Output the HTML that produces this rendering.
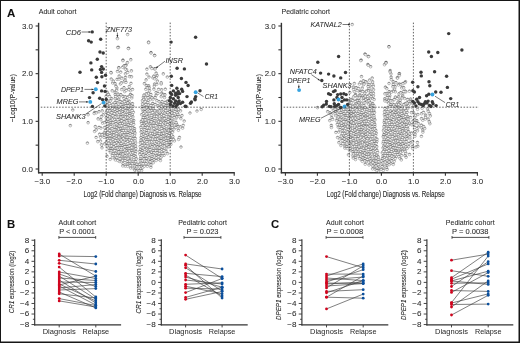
<!DOCTYPE html>
<html><head><meta charset="utf-8"><style>
html,body{margin:0;padding:0;background:#fff;}
body{width:520px;height:343px;overflow:hidden;}
svg{display:block;font-family:"Liberation Sans",sans-serif;filter:blur(0.35px);}
</style></head><body>
<svg width="520" height="343" viewBox="0 0 520 343">
<defs><linearGradient id="lg" x1="0" y1="0" x2="0" y2="1"><stop offset="0" stop-color="#5a5a5a"/><stop offset="0.35" stop-color="#d2d2d2"/><stop offset="0.6" stop-color="#fcfcfc"/><stop offset="1" stop-color="#fff"/></linearGradient></defs>
<rect x="0" y="0" width="520" height="343" fill="#161616"/>
<rect x="1" y="1" width="517.5" height="340.5" fill="#fff"/>
<line x1="38.60" y1="22.80" x2="38.60" y2="173.30" stroke="#333333" stroke-width="1.4"/>
<line x1="38.00" y1="172.70" x2="234.80" y2="172.70" stroke="#333333" stroke-width="1.4"/>
<line x1="35.60" y1="169.00" x2="38.60" y2="169.00" stroke="#333333" stroke-width="1.1"/>
<text x="32.90" y="171.60" font-size="7.9" text-anchor="end" fill="#2b2b2b" stroke="#2b2b2b" stroke-width="0.06">0.0</text>
<line x1="35.60" y1="145.16" x2="38.60" y2="145.16" stroke="#333333" stroke-width="1.1"/>
<line x1="35.60" y1="121.33" x2="38.60" y2="121.33" stroke="#333333" stroke-width="1.1"/>
<text x="32.90" y="123.93" font-size="7.9" text-anchor="end" fill="#2b2b2b" stroke="#2b2b2b" stroke-width="0.06">1.0</text>
<line x1="35.60" y1="97.50" x2="38.60" y2="97.50" stroke="#333333" stroke-width="1.1"/>
<line x1="35.60" y1="73.66" x2="38.60" y2="73.66" stroke="#333333" stroke-width="1.1"/>
<text x="32.90" y="76.26" font-size="7.9" text-anchor="end" fill="#2b2b2b" stroke="#2b2b2b" stroke-width="0.06">2.0</text>
<line x1="35.60" y1="49.82" x2="38.60" y2="49.82" stroke="#333333" stroke-width="1.1"/>
<line x1="35.60" y1="25.99" x2="38.60" y2="25.99" stroke="#333333" stroke-width="1.1"/>
<text x="32.90" y="28.59" font-size="7.9" text-anchor="end" fill="#2b2b2b" stroke="#2b2b2b" stroke-width="0.06">3.0</text>
<line x1="42.20" y1="172.70" x2="42.20" y2="175.70" stroke="#333333" stroke-width="1.1"/>
<text x="42.40" y="184.40" font-size="7.9" text-anchor="middle" fill="#2b2b2b" stroke="#2b2b2b" stroke-width="0.06">−3.0</text>
<line x1="74.20" y1="172.70" x2="74.20" y2="175.70" stroke="#333333" stroke-width="1.1"/>
<text x="74.40" y="184.40" font-size="7.9" text-anchor="middle" fill="#2b2b2b" stroke="#2b2b2b" stroke-width="0.06">−2.0</text>
<line x1="106.20" y1="172.70" x2="106.20" y2="175.70" stroke="#333333" stroke-width="1.1"/>
<text x="106.40" y="184.40" font-size="7.9" text-anchor="middle" fill="#2b2b2b" stroke="#2b2b2b" stroke-width="0.06">−1.0</text>
<line x1="138.20" y1="172.70" x2="138.20" y2="175.70" stroke="#333333" stroke-width="1.1"/>
<text x="138.40" y="184.40" font-size="7.9" text-anchor="middle" fill="#2b2b2b" stroke="#2b2b2b" stroke-width="0.06">0.0</text>
<line x1="170.20" y1="172.70" x2="170.20" y2="175.70" stroke="#333333" stroke-width="1.1"/>
<text x="170.40" y="184.40" font-size="7.9" text-anchor="middle" fill="#2b2b2b" stroke="#2b2b2b" stroke-width="0.06">1.0</text>
<line x1="202.20" y1="172.70" x2="202.20" y2="175.70" stroke="#333333" stroke-width="1.1"/>
<text x="202.40" y="184.40" font-size="7.9" text-anchor="middle" fill="#2b2b2b" stroke="#2b2b2b" stroke-width="0.06">2.0</text>
<line x1="234.20" y1="172.70" x2="234.20" y2="175.70" stroke="#333333" stroke-width="1.1"/>
<text x="234.40" y="184.40" font-size="7.9" text-anchor="middle" fill="#2b2b2b" stroke="#2b2b2b" stroke-width="0.06">3.0</text>
<text x="142.50" y="196.90" font-size="8.6" text-anchor="middle" fill="#2b2b2b" stroke="#2b2b2b" stroke-width="0.12" textLength="118" lengthAdjust="spacingAndGlyphs">Log2 (Fold change) Diagnosis vs. Relapse</text>
<text x="15.20" y="98.20" font-size="7.4" text-anchor="middle" fill="#2b2b2b" stroke="#2b2b2b" stroke-width="0.1" textLength="48" lengthAdjust="spacingAndGlyphs" transform="rotate(-90 15.20 98.20)">−Log10(P-value)</text>
<text x="38.70" y="13.80" font-size="7.4" text-anchor="start" fill="#2b2b2b" stroke="#2b2b2b" stroke-width="0.06" textLength="37.8" lengthAdjust="spacingAndGlyphs">Adult cohort</text>
<line x1="281.40" y1="22.80" x2="281.40" y2="173.30" stroke="#333333" stroke-width="1.4"/>
<line x1="280.80" y1="172.70" x2="478.00" y2="172.70" stroke="#333333" stroke-width="1.4"/>
<line x1="278.40" y1="169.00" x2="281.40" y2="169.00" stroke="#333333" stroke-width="1.1"/>
<text x="275.70" y="171.60" font-size="7.9" text-anchor="end" fill="#2b2b2b" stroke="#2b2b2b" stroke-width="0.06">0.0</text>
<line x1="278.40" y1="145.16" x2="281.40" y2="145.16" stroke="#333333" stroke-width="1.1"/>
<line x1="278.40" y1="121.33" x2="281.40" y2="121.33" stroke="#333333" stroke-width="1.1"/>
<text x="275.70" y="123.93" font-size="7.9" text-anchor="end" fill="#2b2b2b" stroke="#2b2b2b" stroke-width="0.06">1.0</text>
<line x1="278.40" y1="97.50" x2="281.40" y2="97.50" stroke="#333333" stroke-width="1.1"/>
<line x1="278.40" y1="73.66" x2="281.40" y2="73.66" stroke="#333333" stroke-width="1.1"/>
<text x="275.70" y="76.26" font-size="7.9" text-anchor="end" fill="#2b2b2b" stroke="#2b2b2b" stroke-width="0.06">2.0</text>
<line x1="278.40" y1="49.82" x2="281.40" y2="49.82" stroke="#333333" stroke-width="1.1"/>
<line x1="278.40" y1="25.99" x2="281.40" y2="25.99" stroke="#333333" stroke-width="1.1"/>
<text x="275.70" y="28.59" font-size="7.9" text-anchor="end" fill="#2b2b2b" stroke="#2b2b2b" stroke-width="0.06">3.0</text>
<line x1="285.40" y1="172.70" x2="285.40" y2="175.70" stroke="#333333" stroke-width="1.1"/>
<text x="285.60" y="184.40" font-size="7.9" text-anchor="middle" fill="#2b2b2b" stroke="#2b2b2b" stroke-width="0.06">−3.0</text>
<line x1="317.40" y1="172.70" x2="317.40" y2="175.70" stroke="#333333" stroke-width="1.1"/>
<text x="317.60" y="184.40" font-size="7.9" text-anchor="middle" fill="#2b2b2b" stroke="#2b2b2b" stroke-width="0.06">−2.0</text>
<line x1="349.40" y1="172.70" x2="349.40" y2="175.70" stroke="#333333" stroke-width="1.1"/>
<text x="349.60" y="184.40" font-size="7.9" text-anchor="middle" fill="#2b2b2b" stroke="#2b2b2b" stroke-width="0.06">−1.0</text>
<line x1="381.40" y1="172.70" x2="381.40" y2="175.70" stroke="#333333" stroke-width="1.1"/>
<text x="381.60" y="184.40" font-size="7.9" text-anchor="middle" fill="#2b2b2b" stroke="#2b2b2b" stroke-width="0.06">0.0</text>
<line x1="413.40" y1="172.70" x2="413.40" y2="175.70" stroke="#333333" stroke-width="1.1"/>
<text x="413.60" y="184.40" font-size="7.9" text-anchor="middle" fill="#2b2b2b" stroke="#2b2b2b" stroke-width="0.06">1.0</text>
<line x1="445.40" y1="172.70" x2="445.40" y2="175.70" stroke="#333333" stroke-width="1.1"/>
<text x="445.60" y="184.40" font-size="7.9" text-anchor="middle" fill="#2b2b2b" stroke="#2b2b2b" stroke-width="0.06">2.0</text>
<line x1="477.40" y1="172.70" x2="477.40" y2="175.70" stroke="#333333" stroke-width="1.1"/>
<text x="477.60" y="184.40" font-size="7.9" text-anchor="middle" fill="#2b2b2b" stroke="#2b2b2b" stroke-width="0.06">3.0</text>
<text x="385.70" y="196.90" font-size="8.6" text-anchor="middle" fill="#2b2b2b" stroke="#2b2b2b" stroke-width="0.12" textLength="118" lengthAdjust="spacingAndGlyphs">Log2 (Fold change) Diagnosis vs. Relapse</text>
<text x="261.40" y="98.20" font-size="7.4" text-anchor="middle" fill="#2b2b2b" stroke="#2b2b2b" stroke-width="0.1" textLength="48" lengthAdjust="spacingAndGlyphs" transform="rotate(-90 261.40 98.20)">−Log10(P-value)</text>
<text x="281.50" y="13.80" font-size="7.4" text-anchor="start" fill="#2b2b2b" stroke="#2b2b2b" stroke-width="0.06" textLength="48.5" lengthAdjust="spacingAndGlyphs">Pediatric cohort</text>
<g fill="url(#lg)" stroke="#707070" stroke-width="0.45">
<circle cx="115.1" cy="148.1" r="1.35"/>
<circle cx="130.4" cy="90.5" r="1.35"/>
<circle cx="171.5" cy="110.8" r="1.35"/>
<circle cx="107.1" cy="92.2" r="1.35"/>
<circle cx="166.0" cy="151.1" r="1.35"/>
<circle cx="114.7" cy="126.6" r="1.35"/>
<circle cx="130.9" cy="119.3" r="1.35"/>
<circle cx="122.7" cy="103.9" r="1.35"/>
<circle cx="145.6" cy="125.4" r="1.35"/>
<circle cx="147.3" cy="166.2" r="1.35"/>
<circle cx="150.1" cy="147.2" r="1.35"/>
<circle cx="118.8" cy="98.9" r="1.35"/>
<circle cx="144.4" cy="83.6" r="1.35"/>
<circle cx="126.9" cy="146.4" r="1.35"/>
<circle cx="125.5" cy="114.3" r="1.35"/>
<circle cx="163.7" cy="110.9" r="1.35"/>
<circle cx="175.7" cy="114.5" r="1.35"/>
<circle cx="157.4" cy="119.6" r="1.35"/>
<circle cx="141.4" cy="166.2" r="1.35"/>
<circle cx="161.4" cy="138.6" r="1.35"/>
<circle cx="161.4" cy="133.7" r="1.35"/>
<circle cx="121.0" cy="110.2" r="1.35"/>
<circle cx="115.8" cy="129.4" r="1.35"/>
<circle cx="122.7" cy="67.2" r="1.35"/>
<circle cx="168.7" cy="116.8" r="1.35"/>
<circle cx="153.3" cy="162.6" r="1.35"/>
<circle cx="148.7" cy="85.9" r="1.35"/>
<circle cx="117.1" cy="79.3" r="1.35"/>
<circle cx="156.1" cy="95.1" r="1.35"/>
<circle cx="132.3" cy="114.0" r="1.35"/>
<circle cx="133.3" cy="112.2" r="1.35"/>
<circle cx="148.1" cy="149.1" r="1.35"/>
<circle cx="169.8" cy="123.6" r="1.35"/>
<circle cx="145.6" cy="97.1" r="1.35"/>
<circle cx="144.0" cy="105.2" r="1.35"/>
<circle cx="128.8" cy="89.4" r="1.35"/>
<circle cx="133.9" cy="147.9" r="1.35"/>
<circle cx="117.2" cy="108.1" r="1.35"/>
<circle cx="170.4" cy="128.0" r="1.35"/>
<circle cx="129.1" cy="120.4" r="1.35"/>
<circle cx="135.4" cy="156.2" r="1.35"/>
<circle cx="148.4" cy="93.1" r="1.35"/>
<circle cx="144.1" cy="115.6" r="1.35"/>
<circle cx="140.4" cy="142.7" r="1.35"/>
<circle cx="109.0" cy="106.6" r="1.35"/>
<circle cx="182.6" cy="128.1" r="1.35"/>
<circle cx="158.6" cy="142.6" r="1.35"/>
<circle cx="111.5" cy="98.7" r="1.35"/>
<circle cx="143.9" cy="122.0" r="1.35"/>
<circle cx="125.7" cy="103.4" r="1.35"/>
<circle cx="146.9" cy="110.5" r="1.35"/>
<circle cx="124.3" cy="144.5" r="1.35"/>
<circle cx="121.9" cy="145.4" r="1.35"/>
<circle cx="160.2" cy="112.5" r="1.35"/>
<circle cx="119.3" cy="109.3" r="1.35"/>
<circle cx="111.8" cy="134.0" r="1.35"/>
<circle cx="104.3" cy="132.9" r="1.35"/>
<circle cx="116.6" cy="150.8" r="1.35"/>
<circle cx="109.0" cy="108.6" r="1.35"/>
<circle cx="119.3" cy="161.4" r="1.35"/>
<circle cx="112.2" cy="90.8" r="1.35"/>
<circle cx="150.4" cy="138.3" r="1.35"/>
<circle cx="173.0" cy="121.0" r="1.35"/>
<circle cx="170.2" cy="107.2" r="1.35"/>
<circle cx="163.1" cy="107.1" r="1.35"/>
<circle cx="127.5" cy="97.2" r="1.35"/>
<circle cx="117.0" cy="127.2" r="1.35"/>
<circle cx="134.4" cy="149.9" r="1.35"/>
<circle cx="114.6" cy="158.1" r="1.35"/>
<circle cx="131.8" cy="97.9" r="1.35"/>
<circle cx="116.7" cy="157.5" r="1.35"/>
<circle cx="149.0" cy="115.3" r="1.35"/>
<circle cx="148.0" cy="107.3" r="1.35"/>
<circle cx="151.6" cy="117.4" r="1.35"/>
<circle cx="117.1" cy="102.9" r="1.35"/>
<circle cx="114.2" cy="124.6" r="1.35"/>
<circle cx="163.2" cy="135.7" r="1.35"/>
<circle cx="161.0" cy="119.8" r="1.35"/>
<circle cx="111.2" cy="72.9" r="1.35"/>
<circle cx="115.2" cy="111.4" r="1.35"/>
<circle cx="122.1" cy="106.6" r="1.35"/>
<circle cx="111.2" cy="117.3" r="1.35"/>
<circle cx="154.5" cy="55.4" r="1.35"/>
<circle cx="149.0" cy="77.0" r="1.35"/>
<circle cx="125.4" cy="77.4" r="1.35"/>
<circle cx="142.5" cy="100.7" r="1.35"/>
<circle cx="158.4" cy="159.1" r="1.35"/>
<circle cx="112.2" cy="136.4" r="1.35"/>
<circle cx="108.3" cy="94.2" r="1.35"/>
<circle cx="144.5" cy="143.8" r="1.35"/>
<circle cx="141.8" cy="114.6" r="1.35"/>
<circle cx="174.4" cy="140.9" r="1.35"/>
<circle cx="145.9" cy="163.4" r="1.35"/>
<circle cx="143.1" cy="111.0" r="1.35"/>
<circle cx="143.9" cy="123.9" r="1.35"/>
<circle cx="166.4" cy="128.8" r="1.35"/>
<circle cx="143.4" cy="97.2" r="1.35"/>
<circle cx="120.6" cy="128.3" r="1.35"/>
<circle cx="161.5" cy="110.5" r="1.35"/>
<circle cx="112.7" cy="83.0" r="1.35"/>
<circle cx="100.9" cy="128.1" r="1.35"/>
<circle cx="167.1" cy="103.9" r="1.35"/>
<circle cx="154.6" cy="68.9" r="1.35"/>
<circle cx="125.9" cy="152.9" r="1.35"/>
<circle cx="140.6" cy="149.3" r="1.35"/>
<circle cx="176.9" cy="124.7" r="1.35"/>
<circle cx="127.6" cy="34.5" r="1.35"/>
<circle cx="114.7" cy="119.1" r="1.35"/>
<circle cx="148.6" cy="122.8" r="1.35"/>
<circle cx="156.7" cy="144.5" r="1.35"/>
<circle cx="132.9" cy="161.0" r="1.35"/>
<circle cx="156.8" cy="155.3" r="1.35"/>
<circle cx="164.9" cy="94.7" r="1.35"/>
<circle cx="122.2" cy="155.9" r="1.35"/>
<circle cx="130.8" cy="59.7" r="1.35"/>
<circle cx="132.8" cy="127.5" r="1.35"/>
<circle cx="154.4" cy="120.6" r="1.35"/>
<circle cx="148.5" cy="109.2" r="1.35"/>
<circle cx="146.0" cy="148.1" r="1.35"/>
<circle cx="150.9" cy="167.2" r="1.35"/>
<circle cx="149.2" cy="87.8" r="1.35"/>
<circle cx="152.7" cy="103.4" r="1.35"/>
<circle cx="147.6" cy="134.5" r="1.35"/>
<circle cx="119.7" cy="141.6" r="1.35"/>
<circle cx="159.7" cy="135.2" r="1.35"/>
<circle cx="124.7" cy="91.6" r="1.35"/>
<circle cx="129.7" cy="111.6" r="1.35"/>
<circle cx="118.2" cy="149.4" r="1.35"/>
<circle cx="167.4" cy="101.1" r="1.35"/>
<circle cx="100.5" cy="141.0" r="1.35"/>
<circle cx="129.5" cy="163.6" r="1.35"/>
<circle cx="148.3" cy="104.7" r="1.35"/>
<circle cx="139.4" cy="164.0" r="1.35"/>
<circle cx="121.9" cy="102.1" r="1.35"/>
<circle cx="115.8" cy="114.8" r="1.35"/>
<circle cx="168.4" cy="140.2" r="1.35"/>
<circle cx="113.9" cy="137.5" r="1.35"/>
<circle cx="157.1" cy="75.5" r="1.35"/>
<circle cx="123.0" cy="96.3" r="1.35"/>
<circle cx="115.1" cy="98.7" r="1.35"/>
<circle cx="129.6" cy="76.5" r="1.35"/>
<circle cx="167.4" cy="153.6" r="1.35"/>
<circle cx="117.1" cy="110.1" r="1.35"/>
<circle cx="169.4" cy="111.3" r="1.35"/>
<circle cx="118.4" cy="128.8" r="1.35"/>
<circle cx="121.2" cy="114.6" r="1.35"/>
<circle cx="118.9" cy="153.6" r="1.35"/>
<circle cx="128.9" cy="129.8" r="1.35"/>
<circle cx="166.3" cy="140.3" r="1.35"/>
<circle cx="151.2" cy="141.3" r="1.35"/>
<circle cx="124.2" cy="81.7" r="1.35"/>
<circle cx="148.6" cy="159.7" r="1.35"/>
<circle cx="111.6" cy="142.9" r="1.35"/>
<circle cx="121.1" cy="143.2" r="1.35"/>
<circle cx="150.7" cy="144.9" r="1.35"/>
<circle cx="169.5" cy="109.1" r="1.35"/>
<circle cx="162.5" cy="145.2" r="1.35"/>
<circle cx="130.5" cy="94.4" r="1.35"/>
<circle cx="120.6" cy="135.7" r="1.35"/>
<circle cx="109.3" cy="127.3" r="1.35"/>
<circle cx="169.1" cy="142.0" r="1.35"/>
<circle cx="122.5" cy="136.4" r="1.35"/>
<circle cx="135.1" cy="163.2" r="1.35"/>
<circle cx="170.5" cy="115.6" r="1.35"/>
<circle cx="124.8" cy="136.8" r="1.35"/>
<circle cx="133.7" cy="120.4" r="1.35"/>
<circle cx="120.9" cy="151.5" r="1.35"/>
<circle cx="141.5" cy="129.1" r="1.35"/>
<circle cx="147.9" cy="102.2" r="1.35"/>
<circle cx="124.9" cy="139.5" r="1.35"/>
<circle cx="148.5" cy="100.0" r="1.35"/>
<circle cx="110.7" cy="140.9" r="1.35"/>
<circle cx="126.9" cy="148.8" r="1.35"/>
<circle cx="156.2" cy="77.2" r="1.35"/>
<circle cx="147.5" cy="154.2" r="1.35"/>
<circle cx="147.6" cy="139.6" r="1.35"/>
<circle cx="146.3" cy="137.3" r="1.35"/>
<circle cx="180.3" cy="126.8" r="1.35"/>
<circle cx="107.5" cy="102.7" r="1.35"/>
<circle cx="135.9" cy="151.2" r="1.35"/>
<circle cx="122.4" cy="123.2" r="1.35"/>
<circle cx="161.6" cy="89.8" r="1.35"/>
<circle cx="163.8" cy="108.9" r="1.35"/>
<circle cx="130.0" cy="133.3" r="1.35"/>
<circle cx="113.9" cy="129.5" r="1.35"/>
<circle cx="162.1" cy="101.5" r="1.35"/>
<circle cx="129.5" cy="96.2" r="1.35"/>
<circle cx="129.0" cy="118.5" r="1.35"/>
<circle cx="145.9" cy="104.3" r="1.35"/>
<circle cx="129.1" cy="101.1" r="1.35"/>
<circle cx="111.0" cy="138.2" r="1.35"/>
<circle cx="118.4" cy="47.3" r="1.35"/>
<circle cx="123.0" cy="127.9" r="1.35"/>
<circle cx="129.9" cy="159.0" r="1.35"/>
<circle cx="157.8" cy="114.7" r="1.35"/>
<circle cx="181.0" cy="147.0" r="1.35"/>
<circle cx="127.0" cy="118.7" r="1.35"/>
<circle cx="126.2" cy="134.4" r="1.35"/>
<circle cx="156.8" cy="84.2" r="1.35"/>
<circle cx="149.3" cy="157.7" r="1.35"/>
<circle cx="140.4" cy="158.7" r="1.35"/>
<circle cx="157.3" cy="133.5" r="1.35"/>
<circle cx="151.8" cy="129.7" r="1.35"/>
<circle cx="134.1" cy="144.4" r="1.35"/>
<circle cx="120.4" cy="138.0" r="1.35"/>
<circle cx="152.9" cy="77.8" r="1.35"/>
<circle cx="135.5" cy="145.9" r="1.35"/>
<circle cx="168.9" cy="129.9" r="1.35"/>
<circle cx="118.7" cy="116.5" r="1.35"/>
<circle cx="174.8" cy="124.7" r="1.35"/>
<circle cx="134.5" cy="128.7" r="1.35"/>
<circle cx="146.9" cy="69.2" r="1.35"/>
<circle cx="142.4" cy="150.6" r="1.35"/>
<circle cx="132.6" cy="167.8" r="1.35"/>
<circle cx="171.8" cy="123.0" r="1.35"/>
<circle cx="115.6" cy="153.1" r="1.35"/>
<circle cx="158.9" cy="140.2" r="1.35"/>
<circle cx="128.1" cy="155.8" r="1.35"/>
<circle cx="151.5" cy="127.6" r="1.35"/>
<circle cx="170.0" cy="100.5" r="1.35"/>
<circle cx="110.8" cy="107.4" r="1.35"/>
<circle cx="157.9" cy="124.8" r="1.35"/>
<circle cx="131.7" cy="150.4" r="1.35"/>
<circle cx="148.4" cy="118.7" r="1.35"/>
<circle cx="117.5" cy="71.4" r="1.35"/>
<circle cx="154.3" cy="114.1" r="1.35"/>
<circle cx="110.0" cy="114.5" r="1.35"/>
<circle cx="127.2" cy="139.2" r="1.35"/>
<circle cx="151.8" cy="135.4" r="1.35"/>
<circle cx="159.3" cy="133.4" r="1.35"/>
<circle cx="110.2" cy="159.3" r="1.35"/>
<circle cx="123.2" cy="151.7" r="1.35"/>
<circle cx="112.1" cy="128.5" r="1.35"/>
<circle cx="126.3" cy="150.6" r="1.35"/>
<circle cx="117.0" cy="131.0" r="1.35"/>
<circle cx="120.7" cy="108.1" r="1.35"/>
<circle cx="124.6" cy="149.7" r="1.35"/>
<circle cx="133.8" cy="159.3" r="1.35"/>
<circle cx="120.7" cy="154.0" r="1.35"/>
<circle cx="178.7" cy="139.4" r="1.35"/>
<circle cx="170.2" cy="98.1" r="1.35"/>
<circle cx="121.4" cy="130.5" r="1.35"/>
<circle cx="109.0" cy="125.4" r="1.35"/>
<circle cx="154.6" cy="84.0" r="1.35"/>
<circle cx="165.6" cy="130.9" r="1.35"/>
<circle cx="116.6" cy="135.9" r="1.35"/>
<circle cx="134.7" cy="165.6" r="1.35"/>
<circle cx="161.9" cy="151.2" r="1.35"/>
<circle cx="129.6" cy="154.5" r="1.35"/>
<circle cx="95.3" cy="126.6" r="1.35"/>
<circle cx="122.7" cy="116.1" r="1.35"/>
<circle cx="120.4" cy="84.0" r="1.35"/>
<circle cx="128.1" cy="108.7" r="1.35"/>
<circle cx="169.7" cy="113.8" r="1.35"/>
<circle cx="99.0" cy="127.4" r="1.35"/>
<circle cx="149.8" cy="134.9" r="1.35"/>
<circle cx="122.6" cy="141.5" r="1.35"/>
<circle cx="176.1" cy="122.5" r="1.35"/>
<circle cx="127.4" cy="122.5" r="1.35"/>
<circle cx="175.9" cy="118.7" r="1.35"/>
<circle cx="152.5" cy="133.3" r="1.35"/>
<circle cx="168.8" cy="144.6" r="1.35"/>
<circle cx="126.8" cy="126.2" r="1.35"/>
<circle cx="174.3" cy="113.2" r="1.35"/>
<circle cx="110.5" cy="105.3" r="1.35"/>
<circle cx="165.8" cy="105.4" r="1.35"/>
<circle cx="153.3" cy="144.3" r="1.35"/>
<circle cx="132.8" cy="141.8" r="1.35"/>
<circle cx="111.3" cy="132.0" r="1.35"/>
<circle cx="123.4" cy="147.6" r="1.35"/>
<circle cx="149.9" cy="96.4" r="1.35"/>
<circle cx="106.8" cy="106.9" r="1.35"/>
<circle cx="136.8" cy="164.0" r="1.35"/>
<circle cx="169.0" cy="102.3" r="1.35"/>
<circle cx="147.5" cy="145.7" r="1.35"/>
<circle cx="161.2" cy="84.0" r="1.35"/>
<circle cx="118.8" cy="67.8" r="1.35"/>
<circle cx="166.8" cy="147.9" r="1.35"/>
<circle cx="123.7" cy="118.5" r="1.35"/>
<circle cx="167.7" cy="112.4" r="1.35"/>
<circle cx="143.8" cy="99.1" r="1.35"/>
<circle cx="158.9" cy="137.0" r="1.35"/>
<circle cx="127.1" cy="161.4" r="1.35"/>
<circle cx="134.0" cy="136.7" r="1.35"/>
<circle cx="140.7" cy="168.6" r="1.35"/>
<circle cx="131.7" cy="154.1" r="1.35"/>
<circle cx="110.3" cy="148.4" r="1.35"/>
<circle cx="145.7" cy="139.2" r="1.35"/>
<circle cx="125.3" cy="166.1" r="1.35"/>
<circle cx="145.4" cy="117.5" r="1.35"/>
<circle cx="156.6" cy="141.4" r="1.35"/>
<circle cx="125.1" cy="155.6" r="1.35"/>
<circle cx="149.4" cy="127.7" r="1.35"/>
<circle cx="163.4" cy="133.0" r="1.35"/>
<circle cx="106.2" cy="112.5" r="1.35"/>
<circle cx="165.2" cy="102.3" r="1.35"/>
<circle cx="160.8" cy="146.2" r="1.35"/>
<circle cx="115.2" cy="116.6" r="1.35"/>
<circle cx="117.8" cy="47.5" r="1.35"/>
<circle cx="112.2" cy="148.7" r="1.35"/>
<circle cx="132.7" cy="132.4" r="1.35"/>
<circle cx="115.7" cy="145.2" r="1.35"/>
<circle cx="119.8" cy="119.0" r="1.35"/>
<circle cx="125.9" cy="107.4" r="1.35"/>
<circle cx="156.1" cy="92.5" r="1.35"/>
<circle cx="149.8" cy="110.6" r="1.35"/>
<circle cx="155.1" cy="143.4" r="1.35"/>
<circle cx="124.1" cy="65.8" r="1.35"/>
<circle cx="106.8" cy="134.3" r="1.35"/>
<circle cx="108.7" cy="121.5" r="1.35"/>
<circle cx="177.9" cy="114.1" r="1.35"/>
<circle cx="118.4" cy="106.6" r="1.35"/>
<circle cx="110.6" cy="120.3" r="1.35"/>
<circle cx="100.5" cy="137.2" r="1.35"/>
<circle cx="104.0" cy="137.3" r="1.35"/>
<circle cx="165.3" cy="89.2" r="1.35"/>
<circle cx="129.9" cy="109.6" r="1.35"/>
<circle cx="123.2" cy="163.3" r="1.35"/>
<circle cx="113.5" cy="141.8" r="1.35"/>
<circle cx="102.6" cy="123.1" r="1.35"/>
<circle cx="130.6" cy="168.0" r="1.35"/>
<circle cx="146.3" cy="93.9" r="1.35"/>
<circle cx="178.2" cy="111.0" r="1.35"/>
<circle cx="121.3" cy="82.9" r="1.35"/>
<circle cx="115.5" cy="155.5" r="1.35"/>
<circle cx="169.4" cy="133.1" r="1.35"/>
<circle cx="117.0" cy="138.3" r="1.35"/>
<circle cx="135.9" cy="168.7" r="1.35"/>
<circle cx="160.6" cy="108.8" r="1.35"/>
<circle cx="116.9" cy="142.3" r="1.35"/>
<circle cx="180.5" cy="110.9" r="1.35"/>
<circle cx="144.9" cy="127.4" r="1.35"/>
<circle cx="155.9" cy="118.3" r="1.35"/>
<circle cx="142.2" cy="106.5" r="1.35"/>
<circle cx="145.6" cy="135.3" r="1.35"/>
<circle cx="116.9" cy="87.9" r="1.35"/>
<circle cx="162.0" cy="126.3" r="1.35"/>
<circle cx="170.2" cy="137.4" r="1.35"/>
<circle cx="161.9" cy="149.3" r="1.35"/>
<circle cx="161.6" cy="116.2" r="1.35"/>
<circle cx="126.1" cy="65.1" r="1.35"/>
<circle cx="135.6" cy="142.8" r="1.35"/>
<circle cx="155.1" cy="129.8" r="1.35"/>
<circle cx="132.9" cy="116.8" r="1.35"/>
<circle cx="162.1" cy="142.6" r="1.35"/>
<circle cx="150.5" cy="107.6" r="1.35"/>
<circle cx="153.8" cy="128.2" r="1.35"/>
<circle cx="134.7" cy="170.1" r="1.35"/>
<circle cx="126.2" cy="99.7" r="1.35"/>
<circle cx="133.1" cy="122.2" r="1.35"/>
<circle cx="117.2" cy="147.7" r="1.35"/>
<circle cx="166.8" cy="144.7" r="1.35"/>
<circle cx="145.3" cy="101.1" r="1.35"/>
<circle cx="141.0" cy="156.4" r="1.35"/>
<circle cx="147.1" cy="124.0" r="1.35"/>
<circle cx="117.4" cy="38.6" r="1.35"/>
<circle cx="117.9" cy="124.4" r="1.35"/>
<circle cx="112.7" cy="110.7" r="1.35"/>
<circle cx="172.2" cy="129.3" r="1.35"/>
<circle cx="160.1" cy="155.3" r="1.35"/>
<circle cx="139.1" cy="170.4" r="1.35"/>
<circle cx="106.7" cy="141.7" r="1.35"/>
<circle cx="156.6" cy="157.4" r="1.35"/>
<circle cx="144.2" cy="131.6" r="1.35"/>
<circle cx="201.2" cy="109.4" r="1.35"/>
<circle cx="127.6" cy="163.9" r="1.35"/>
<circle cx="170.8" cy="130.8" r="1.35"/>
<circle cx="161.0" cy="103.9" r="1.35"/>
<circle cx="131.3" cy="130.9" r="1.35"/>
<circle cx="119.1" cy="79.1" r="1.35"/>
<circle cx="168.1" cy="105.8" r="1.35"/>
<circle cx="128.3" cy="127.9" r="1.35"/>
<circle cx="121.8" cy="78.1" r="1.35"/>
<circle cx="111.4" cy="145.3" r="1.35"/>
<circle cx="134.6" cy="134.9" r="1.35"/>
<circle cx="190.0" cy="113.0" r="1.35"/>
<circle cx="162.5" cy="118.1" r="1.35"/>
<circle cx="118.8" cy="135.0" r="1.35"/>
<circle cx="127.5" cy="114.1" r="1.35"/>
<circle cx="142.8" cy="167.5" r="1.35"/>
<circle cx="158.8" cy="121.1" r="1.35"/>
<circle cx="139.8" cy="151.4" r="1.35"/>
<circle cx="156.1" cy="73.1" r="1.35"/>
<circle cx="169.1" cy="146.6" r="1.35"/>
<circle cx="155.9" cy="147.6" r="1.35"/>
<circle cx="126.5" cy="69.8" r="1.35"/>
<circle cx="166.9" cy="132.3" r="1.35"/>
<circle cx="101.5" cy="144.8" r="1.35"/>
<circle cx="131.8" cy="144.9" r="1.35"/>
<circle cx="140.3" cy="160.7" r="1.35"/>
<circle cx="98.1" cy="118.9" r="1.35"/>
<circle cx="122.8" cy="158.1" r="1.35"/>
<circle cx="172.9" cy="136.6" r="1.35"/>
<circle cx="116.7" cy="90.1" r="1.35"/>
<circle cx="121.4" cy="161.7" r="1.35"/>
<circle cx="103.3" cy="114.8" r="1.35"/>
<circle cx="172.3" cy="127.1" r="1.35"/>
<circle cx="87.4" cy="143.1" r="1.35"/>
<circle cx="160.1" cy="124.5" r="1.35"/>
<circle cx="143.6" cy="113.2" r="1.35"/>
<circle cx="148.5" cy="151.0" r="1.35"/>
<circle cx="124.9" cy="162.3" r="1.35"/>
<circle cx="126.7" cy="120.7" r="1.35"/>
<circle cx="164.4" cy="127.4" r="1.35"/>
<circle cx="114.5" cy="107.1" r="1.35"/>
<circle cx="133.0" cy="138.5" r="1.35"/>
<circle cx="105.4" cy="130.3" r="1.35"/>
<circle cx="154.0" cy="159.4" r="1.35"/>
<circle cx="173.3" cy="139.2" r="1.35"/>
<circle cx="127.6" cy="110.9" r="1.35"/>
<circle cx="153.9" cy="118.1" r="1.35"/>
<circle cx="118.8" cy="151.7" r="1.35"/>
<circle cx="176.8" cy="116.7" r="1.35"/>
<circle cx="112.6" cy="108.2" r="1.35"/>
<circle cx="161.2" cy="82.8" r="1.35"/>
<circle cx="154.3" cy="155.7" r="1.35"/>
<circle cx="116.6" cy="133.2" r="1.35"/>
<circle cx="148.6" cy="130.3" r="1.35"/>
<circle cx="151.9" cy="156.4" r="1.35"/>
<circle cx="154.4" cy="116.0" r="1.35"/>
<circle cx="146.2" cy="158.2" r="1.35"/>
<circle cx="112.9" cy="104.1" r="1.35"/>
<circle cx="165.3" cy="107.4" r="1.35"/>
<circle cx="109.5" cy="96.3" r="1.35"/>
<circle cx="152.8" cy="154.3" r="1.35"/>
<circle cx="124.0" cy="98.3" r="1.35"/>
<circle cx="166.4" cy="116.4" r="1.35"/>
<circle cx="119.9" cy="145.8" r="1.35"/>
<circle cx="184.2" cy="121.0" r="1.35"/>
<circle cx="163.3" cy="119.9" r="1.35"/>
<circle cx="117.5" cy="160.2" r="1.35"/>
<circle cx="130.2" cy="142.1" r="1.35"/>
<circle cx="163.8" cy="125.6" r="1.35"/>
<circle cx="157.0" cy="111.0" r="1.35"/>
<circle cx="154.8" cy="134.0" r="1.35"/>
<circle cx="150.2" cy="123.9" r="1.35"/>
<circle cx="134.3" cy="130.8" r="1.35"/>
<circle cx="109.6" cy="133.3" r="1.35"/>
<circle cx="179.4" cy="137.4" r="1.35"/>
<circle cx="101.4" cy="116.5" r="1.35"/>
<circle cx="166.1" cy="114.4" r="1.35"/>
<circle cx="167.6" cy="109.8" r="1.35"/>
<circle cx="122.7" cy="111.3" r="1.35"/>
<circle cx="156.9" cy="126.8" r="1.35"/>
<circle cx="152.5" cy="138.8" r="1.35"/>
<circle cx="113.1" cy="153.2" r="1.35"/>
<circle cx="164.1" cy="155.3" r="1.35"/>
<circle cx="166.1" cy="120.7" r="1.35"/>
<circle cx="125.4" cy="158.2" r="1.35"/>
<circle cx="120.0" cy="158.2" r="1.35"/>
<circle cx="128.6" cy="48.4" r="1.35"/>
<circle cx="156.5" cy="123.0" r="1.35"/>
<circle cx="154.7" cy="78.7" r="1.35"/>
<circle cx="148.7" cy="120.8" r="1.35"/>
<circle cx="158.6" cy="89.3" r="1.35"/>
<circle cx="119.1" cy="76.0" r="1.35"/>
<circle cx="130.7" cy="107.9" r="1.35"/>
<circle cx="99.6" cy="134.2" r="1.35"/>
<circle cx="164.8" cy="143.6" r="1.35"/>
<circle cx="107.2" cy="126.2" r="1.35"/>
<circle cx="142.2" cy="108.7" r="1.35"/>
<circle cx="124.1" cy="132.2" r="1.35"/>
<circle cx="157.7" cy="150.2" r="1.35"/>
<circle cx="124.5" cy="101.3" r="1.35"/>
<circle cx="109.4" cy="116.6" r="1.35"/>
<circle cx="114.9" cy="102.5" r="1.35"/>
<circle cx="153.2" cy="150.4" r="1.35"/>
<circle cx="159.6" cy="110.7" r="1.35"/>
<circle cx="120.4" cy="133.6" r="1.35"/>
<circle cx="146.9" cy="74.1" r="1.35"/>
<circle cx="124.2" cy="106.1" r="1.35"/>
<circle cx="169.4" cy="104.2" r="1.35"/>
<circle cx="145.6" cy="145.5" r="1.35"/>
<circle cx="163.3" cy="73.9" r="1.35"/>
<circle cx="132.1" cy="110.3" r="1.35"/>
<circle cx="118.4" cy="114.5" r="1.35"/>
<circle cx="157.6" cy="138.8" r="1.35"/>
<circle cx="117.4" cy="97.1" r="1.35"/>
<circle cx="108.3" cy="147.8" r="1.35"/>
<circle cx="113.7" cy="146.7" r="1.35"/>
<circle cx="135.7" cy="161.4" r="1.35"/>
<circle cx="151.0" cy="52.6" r="1.35"/>
<circle cx="109.4" cy="103.3" r="1.35"/>
<circle cx="118.0" cy="140.0" r="1.35"/>
<circle cx="150.4" cy="99.5" r="1.35"/>
<circle cx="171.8" cy="112.8" r="1.35"/>
<circle cx="131.0" cy="83.3" r="1.35"/>
<circle cx="148.6" cy="42.7" r="1.35"/>
<circle cx="155.1" cy="97.4" r="1.35"/>
<circle cx="153.1" cy="99.1" r="1.35"/>
<circle cx="125.7" cy="130.1" r="1.35"/>
<circle cx="119.4" cy="125.6" r="1.35"/>
<circle cx="144.0" cy="95.0" r="1.35"/>
<circle cx="159.6" cy="131.3" r="1.35"/>
<circle cx="129.3" cy="148.6" r="1.35"/>
<circle cx="170.9" cy="144.4" r="1.35"/>
<circle cx="125.6" cy="116.8" r="1.35"/>
<circle cx="153.5" cy="147.7" r="1.35"/>
<circle cx="163.8" cy="150.2" r="1.35"/>
<circle cx="155.7" cy="150.3" r="1.35"/>
<circle cx="128.4" cy="124.3" r="1.35"/>
<circle cx="113.7" cy="132.5" r="1.35"/>
<circle cx="159.0" cy="101.6" r="1.35"/>
<circle cx="158.0" cy="93.3" r="1.35"/>
<circle cx="106.6" cy="121.3" r="1.35"/>
<circle cx="136.3" cy="158.8" r="1.35"/>
<circle cx="160.5" cy="144.0" r="1.35"/>
<circle cx="161.2" cy="96.7" r="1.35"/>
<circle cx="117.0" cy="100.3" r="1.35"/>
<circle cx="151.9" cy="97.6" r="1.35"/>
<circle cx="146.6" cy="160.9" r="1.35"/>
<circle cx="157.7" cy="146.7" r="1.35"/>
<circle cx="100.9" cy="119.7" r="1.35"/>
<circle cx="127.8" cy="132.6" r="1.35"/>
<circle cx="129.8" cy="104.1" r="1.35"/>
<circle cx="164.0" cy="129.8" r="1.35"/>
<circle cx="119.8" cy="131.5" r="1.35"/>
<circle cx="131.4" cy="140.2" r="1.35"/>
<circle cx="146.1" cy="79.9" r="1.35"/>
<circle cx="143.8" cy="156.6" r="1.35"/>
<circle cx="127.8" cy="143.3" r="1.35"/>
<circle cx="94.7" cy="112.5" r="1.35"/>
<circle cx="112.9" cy="151.1" r="1.35"/>
<circle cx="146.7" cy="113.5" r="1.35"/>
<circle cx="125.5" cy="65.7" r="1.35"/>
<circle cx="162.6" cy="123.9" r="1.35"/>
<circle cx="121.7" cy="89.5" r="1.35"/>
<circle cx="109.8" cy="110.6" r="1.35"/>
<circle cx="150.4" cy="133.1" r="1.35"/>
<circle cx="110.9" cy="122.3" r="1.35"/>
<circle cx="151.9" cy="119.6" r="1.35"/>
<circle cx="131.2" cy="105.7" r="1.35"/>
<circle cx="172.1" cy="118.0" r="1.35"/>
<circle cx="104.7" cy="143.9" r="1.35"/>
<circle cx="172.0" cy="125.0" r="1.35"/>
<circle cx="148.1" cy="97.4" r="1.35"/>
<circle cx="165.4" cy="135.9" r="1.35"/>
<circle cx="153.1" cy="108.7" r="1.35"/>
<circle cx="125.1" cy="80.0" r="1.35"/>
<circle cx="144.4" cy="166.1" r="1.35"/>
<circle cx="141.3" cy="163.0" r="1.35"/>
<circle cx="154.7" cy="110.6" r="1.35"/>
<circle cx="154.5" cy="145.9" r="1.35"/>
<circle cx="164.0" cy="122.1" r="1.35"/>
<circle cx="126.0" cy="82.3" r="1.35"/>
<circle cx="166.5" cy="142.4" r="1.35"/>
<circle cx="166.5" cy="126.3" r="1.35"/>
<circle cx="112.4" cy="118.9" r="1.35"/>
<circle cx="110.5" cy="100.7" r="1.35"/>
<circle cx="141.1" cy="131.9" r="1.35"/>
<circle cx="115.7" cy="121.4" r="1.35"/>
<circle cx="180.9" cy="118.6" r="1.35"/>
<circle cx="113.3" cy="81.0" r="1.35"/>
<circle cx="151.3" cy="152.0" r="1.35"/>
<circle cx="161.0" cy="157.4" r="1.35"/>
<circle cx="153.4" cy="105.5" r="1.35"/>
<circle cx="150.9" cy="154.6" r="1.35"/>
<circle cx="155.2" cy="104.4" r="1.35"/>
<circle cx="139.8" cy="154.2" r="1.35"/>
<circle cx="131.4" cy="70.9" r="1.35"/>
<circle cx="136.9" cy="166.7" r="1.35"/>
<circle cx="112.6" cy="157.5" r="1.35"/>
<circle cx="172.5" cy="115.5" r="1.35"/>
<circle cx="102.3" cy="134.4" r="1.35"/>
<circle cx="173.8" cy="108.3" r="1.35"/>
<circle cx="124.0" cy="87.7" r="1.35"/>
<circle cx="169.1" cy="125.8" r="1.35"/>
<circle cx="121.3" cy="125.4" r="1.35"/>
<circle cx="125.5" cy="73.9" r="1.35"/>
<circle cx="111.7" cy="112.4" r="1.35"/>
<circle cx="152.0" cy="110.3" r="1.35"/>
<circle cx="162.1" cy="130.4" r="1.35"/>
<circle cx="130.3" cy="125.2" r="1.35"/>
<circle cx="165.9" cy="122.8" r="1.35"/>
<circle cx="144.2" cy="108.5" r="1.35"/>
<circle cx="145.7" cy="107.3" r="1.35"/>
<circle cx="132.7" cy="165.6" r="1.35"/>
<circle cx="129.2" cy="139.7" r="1.35"/>
<circle cx="183.2" cy="125.3" r="1.35"/>
<circle cx="124.6" cy="112.5" r="1.35"/>
<circle cx="125.9" cy="142.4" r="1.35"/>
<circle cx="136.5" cy="170.9" r="1.35"/>
<circle cx="162.0" cy="155.8" r="1.35"/>
<circle cx="108.5" cy="136.4" r="1.35"/>
<circle cx="115.1" cy="83.7" r="1.35"/>
<circle cx="156.8" cy="100.5" r="1.35"/>
<circle cx="121.4" cy="120.4" r="1.35"/>
<circle cx="104.9" cy="135.0" r="1.35"/>
<circle cx="151.3" cy="121.5" r="1.35"/>
<circle cx="140.2" cy="146.4" r="1.35"/>
<circle cx="127.8" cy="152.3" r="1.35"/>
<circle cx="107.1" cy="104.9" r="1.35"/>
<circle cx="114.6" cy="109.0" r="1.35"/>
<circle cx="115.0" cy="92.1" r="1.35"/>
<circle cx="110.8" cy="124.3" r="1.35"/>
<circle cx="99.0" cy="111.7" r="1.35"/>
<circle cx="145.8" cy="89.3" r="1.35"/>
<circle cx="94.6" cy="131.4" r="1.35"/>
<circle cx="161.0" cy="136.6" r="1.35"/>
<circle cx="108.3" cy="113.2" r="1.35"/>
<circle cx="153.7" cy="122.8" r="1.35"/>
<circle cx="151.8" cy="158.5" r="1.35"/>
<circle cx="122.9" cy="109.1" r="1.35"/>
<circle cx="164.8" cy="112.9" r="1.35"/>
<circle cx="126.3" cy="90.2" r="1.35"/>
<circle cx="112.7" cy="115.4" r="1.35"/>
<circle cx="120.7" cy="72.1" r="1.35"/>
<circle cx="135.8" cy="148.5" r="1.35"/>
<circle cx="142.8" cy="136.5" r="1.35"/>
<circle cx="109.0" cy="144.9" r="1.35"/>
<circle cx="102.2" cy="110.9" r="1.35"/>
<circle cx="174.1" cy="129.0" r="1.35"/>
<circle cx="170.2" cy="120.2" r="1.35"/>
<circle cx="154.4" cy="141.6" r="1.35"/>
<circle cx="161.4" cy="114.1" r="1.35"/>
<circle cx="143.4" cy="134.0" r="1.35"/>
<circle cx="135.2" cy="153.3" r="1.35"/>
<circle cx="176.9" cy="112.5" r="1.35"/>
<circle cx="149.1" cy="153.2" r="1.35"/>
<circle cx="109.1" cy="150.3" r="1.35"/>
<circle cx="114.4" cy="113.3" r="1.35"/>
<circle cx="122.9" cy="153.8" r="1.35"/>
<circle cx="159.4" cy="147.8" r="1.35"/>
<circle cx="166.8" cy="134.4" r="1.35"/>
<circle cx="146.1" cy="152.7" r="1.35"/>
<circle cx="108.9" cy="138.2" r="1.35"/>
<circle cx="178.4" cy="109.0" r="1.35"/>
<circle cx="164.7" cy="147.8" r="1.35"/>
<circle cx="117.5" cy="155.1" r="1.35"/>
<circle cx="165.7" cy="110.3" r="1.35"/>
<circle cx="167.3" cy="77.0" r="1.35"/>
<circle cx="115.5" cy="140.3" r="1.35"/>
<circle cx="127.8" cy="117.0" r="1.35"/>
<circle cx="132.5" cy="89.4" r="1.35"/>
<circle cx="148.9" cy="163.9" r="1.35"/>
<circle cx="147.3" cy="143.4" r="1.35"/>
<circle cx="112.9" cy="122.5" r="1.35"/>
<circle cx="127.8" cy="102.7" r="1.35"/>
<circle cx="132.4" cy="152.3" r="1.35"/>
<circle cx="132.3" cy="163.5" r="1.35"/>
<circle cx="132.1" cy="95.6" r="1.35"/>
<circle cx="121.2" cy="139.8" r="1.35"/>
<circle cx="120.9" cy="116.9" r="1.35"/>
<circle cx="115.9" cy="86.2" r="1.35"/>
<circle cx="110.9" cy="72.5" r="1.35"/>
<circle cx="168.0" cy="107.9" r="1.35"/>
<circle cx="130.7" cy="117.1" r="1.35"/>
<circle cx="151.8" cy="160.6" r="1.35"/>
<circle cx="130.4" cy="152.7" r="1.35"/>
<circle cx="160.7" cy="122.1" r="1.35"/>
<circle cx="114.5" cy="143.4" r="1.35"/>
<circle cx="127.4" cy="62.6" r="1.35"/>
<circle cx="163.0" cy="153.2" r="1.35"/>
<circle cx="197.0" cy="111.0" r="1.35"/>
<circle cx="135.0" cy="132.9" r="1.35"/>
<circle cx="175.6" cy="109.4" r="1.35"/>
<circle cx="96.1" cy="137.4" r="1.35"/>
<circle cx="109.8" cy="130.2" r="1.35"/>
<circle cx="159.2" cy="128.7" r="1.35"/>
<circle cx="154.7" cy="55.5" r="1.35"/>
<circle cx="117.2" cy="112.8" r="1.35"/>
<circle cx="146.3" cy="130.3" r="1.35"/>
<circle cx="126.2" cy="105.4" r="1.35"/>
<circle cx="141.8" cy="152.5" r="1.35"/>
<circle cx="129.7" cy="113.6" r="1.35"/>
<circle cx="155.8" cy="136.4" r="1.35"/>
<circle cx="163.8" cy="115.3" r="1.35"/>
<circle cx="177.9" cy="126.6" r="1.35"/>
<circle cx="133.7" cy="155.5" r="1.35"/>
<circle cx="153.9" cy="89.1" r="1.35"/>
<circle cx="143.2" cy="163.4" r="1.35"/>
<circle cx="102.0" cy="147.8" r="1.35"/>
<circle cx="151.0" cy="52.9" r="1.35"/>
<circle cx="157.3" cy="152.4" r="1.35"/>
<circle cx="110.8" cy="126.2" r="1.35"/>
<circle cx="106.1" cy="96.4" r="1.35"/>
<circle cx="96.3" cy="129.8" r="1.35"/>
<circle cx="170.8" cy="139.2" r="1.35"/>
<circle cx="119.5" cy="147.8" r="1.35"/>
<circle cx="164.5" cy="118.4" r="1.35"/>
<circle cx="171.1" cy="141.6" r="1.35"/>
<circle cx="107.6" cy="123.4" r="1.35"/>
<circle cx="149.2" cy="141.8" r="1.35"/>
<circle cx="144.6" cy="160.5" r="1.35"/>
<circle cx="179.3" cy="116.5" r="1.35"/>
<circle cx="120.1" cy="101.4" r="1.35"/>
<circle cx="164.0" cy="138.9" r="1.35"/>
<circle cx="121.9" cy="132.4" r="1.35"/>
<circle cx="141.3" cy="121.4" r="1.35"/>
<circle cx="145.9" cy="155.6" r="1.35"/>
<circle cx="106.2" cy="117.8" r="1.35"/>
<circle cx="120.7" cy="104.4" r="1.35"/>
<circle cx="165.9" cy="137.9" r="1.35"/>
<circle cx="161.1" cy="140.7" r="1.35"/>
<circle cx="151.9" cy="146.6" r="1.35"/>
<circle cx="107.2" cy="100.6" r="1.35"/>
<circle cx="178.4" cy="130.2" r="1.35"/>
<circle cx="133.8" cy="157.4" r="1.35"/>
<circle cx="144.1" cy="140.6" r="1.35"/>
<circle cx="160.4" cy="160.5" r="1.35"/>
<circle cx="142.1" cy="145.2" r="1.35"/>
<circle cx="153.3" cy="136.6" r="1.35"/>
<circle cx="171.5" cy="134.8" r="1.35"/>
<circle cx="144.6" cy="151.4" r="1.35"/>
<circle cx="141.6" cy="170.6" r="1.35"/>
<circle cx="115.2" cy="94.3" r="1.35"/>
<circle cx="157.9" cy="105.8" r="1.35"/>
<circle cx="127.6" cy="166.2" r="1.35"/>
<circle cx="146.4" cy="85.6" r="1.35"/>
<circle cx="121.1" cy="149.4" r="1.35"/>
<circle cx="125.3" cy="96.8" r="1.35"/>
<circle cx="113.7" cy="134.9" r="1.35"/>
<circle cx="171.7" cy="108.6" r="1.35"/>
<circle cx="127.5" cy="141.1" r="1.35"/>
<circle cx="124.6" cy="124.0" r="1.35"/>
<circle cx="146.8" cy="141.4" r="1.35"/>
<circle cx="119.1" cy="121.6" r="1.35"/>
<circle cx="141.6" cy="123.3" r="1.35"/>
<circle cx="132.4" cy="103.7" r="1.35"/>
<circle cx="128.1" cy="158.0" r="1.35"/>
<circle cx="159.3" cy="107.3" r="1.35"/>
<circle cx="164.3" cy="145.9" r="1.35"/>
<circle cx="107.0" cy="156.2" r="1.35"/>
<circle cx="111.2" cy="79.0" r="1.35"/>
<circle cx="158.5" cy="156.4" r="1.35"/>
<circle cx="146.0" cy="122.1" r="1.35"/>
<circle cx="141.0" cy="137.5" r="1.35"/>
<circle cx="119.6" cy="155.6" r="1.35"/>
<circle cx="112.4" cy="155.3" r="1.35"/>
<circle cx="120.8" cy="94.7" r="1.35"/>
<circle cx="130.3" cy="137.4" r="1.35"/>
<circle cx="154.3" cy="86.1" r="1.35"/>
<circle cx="143.3" cy="138.7" r="1.35"/>
<circle cx="144.6" cy="149.4" r="1.35"/>
<circle cx="148.6" cy="42.1" r="1.35"/>
<circle cx="118.3" cy="143.8" r="1.35"/>
<circle cx="129.8" cy="160.9" r="1.35"/>
<circle cx="114.7" cy="150.3" r="1.35"/>
<circle cx="143.2" cy="147.8" r="1.35"/>
<circle cx="168.2" cy="119.2" r="1.35"/>
<circle cx="161.8" cy="93.1" r="1.35"/>
<circle cx="121.5" cy="147.5" r="1.35"/>
<circle cx="153.3" cy="125.4" r="1.35"/>
<circle cx="131.7" cy="156.5" r="1.35"/>
<circle cx="125.5" cy="110.6" r="1.35"/>
<circle cx="124.8" cy="126.4" r="1.35"/>
<circle cx="175.4" cy="107.3" r="1.35"/>
<circle cx="174.9" cy="111.3" r="1.35"/>
<circle cx="107.4" cy="115.6" r="1.35"/>
<circle cx="107.3" cy="110.3" r="1.35"/>
<circle cx="120.1" cy="123.5" r="1.35"/>
<circle cx="172.6" cy="132.1" r="1.35"/>
<circle cx="119.3" cy="96.6" r="1.35"/>
<circle cx="129.3" cy="86.5" r="1.35"/>
<circle cx="135.0" cy="140.7" r="1.35"/>
<circle cx="122.5" cy="160.1" r="1.35"/>
<circle cx="147.3" cy="87.7" r="1.35"/>
<circle cx="145.0" cy="111.7" r="1.35"/>
<circle cx="150.4" cy="66.9" r="1.35"/>
<circle cx="161.4" cy="128.2" r="1.35"/>
<circle cx="150.1" cy="149.4" r="1.35"/>
<circle cx="132.4" cy="134.5" r="1.35"/>
<circle cx="122.8" cy="165.9" r="1.35"/>
<circle cx="123.0" cy="60.1" r="1.35"/>
<circle cx="142.4" cy="160.5" r="1.35"/>
<circle cx="88.1" cy="114.7" r="1.35"/>
<circle cx="147.6" cy="127.1" r="1.35"/>
<circle cx="182.0" cy="115.5" r="1.35"/>
<circle cx="128.1" cy="134.6" r="1.35"/>
<circle cx="154.7" cy="131.7" r="1.35"/>
<circle cx="130.3" cy="165.3" r="1.35"/>
<circle cx="139.4" cy="166.7" r="1.35"/>
<circle cx="125.3" cy="69.0" r="1.35"/>
<circle cx="119.4" cy="111.9" r="1.35"/>
<circle cx="117.8" cy="119.4" r="1.35"/>
<circle cx="150.9" cy="105.3" r="1.35"/>
<circle cx="108.8" cy="143.0" r="1.35"/>
<circle cx="163.9" cy="141.5" r="1.35"/>
<circle cx="143.2" cy="154.7" r="1.35"/>
<circle cx="110.6" cy="152.5" r="1.35"/>
<circle cx="159.5" cy="126.7" r="1.35"/>
<circle cx="133.7" cy="124.3" r="1.35"/>
<circle cx="157.5" cy="135.4" r="1.35"/>
<circle cx="108.4" cy="140.2" r="1.35"/>
<circle cx="159.7" cy="117.9" r="1.35"/>
<circle cx="107.1" cy="145.8" r="1.35"/>
<circle cx="118.0" cy="94.0" r="1.35"/>
<circle cx="111.1" cy="150.6" r="1.35"/>
<circle cx="127.1" cy="137.0" r="1.35"/>
<circle cx="161.3" cy="106.1" r="1.35"/>
<circle cx="143.3" cy="117.3" r="1.35"/>
<circle cx="115.4" cy="159.9" r="1.35"/>
<circle cx="110.1" cy="135.3" r="1.35"/>
<circle cx="155.5" cy="125.3" r="1.35"/>
<circle cx="127.7" cy="72.3" r="1.35"/>
<circle cx="151.5" cy="115.3" r="1.35"/>
<circle cx="88.1" cy="122.7" r="1.35"/>
<circle cx="142.6" cy="103.8" r="1.35"/>
<circle cx="163.7" cy="104.5" r="1.35"/>
<circle cx="141.0" cy="140.0" r="1.35"/>
<circle cx="131.5" cy="76.8" r="1.35"/>
<circle cx="156.5" cy="116.1" r="1.35"/>
<circle cx="142.6" cy="119.7" r="1.35"/>
<circle cx="94.2" cy="113.4" r="1.35"/>
<circle cx="142.3" cy="142.1" r="1.35"/>
<circle cx="148.6" cy="136.9" r="1.35"/>
<circle cx="155.1" cy="68.8" r="1.35"/>
<circle cx="150.1" cy="161.6" r="1.35"/>
<circle cx="107.4" cy="128.6" r="1.35"/>
<circle cx="128.3" cy="48.4" r="1.35"/>
<circle cx="164.5" cy="97.5" r="1.35"/>
<circle cx="168.9" cy="135.3" r="1.35"/>
<circle cx="146.7" cy="132.7" r="1.35"/>
<circle cx="96.3" cy="112.8" r="1.35"/>
<circle cx="128.3" cy="105.6" r="1.35"/>
<circle cx="129.8" cy="145.5" r="1.35"/>
<circle cx="124.1" cy="121.7" r="1.35"/>
<circle cx="152.7" cy="112.2" r="1.35"/>
<circle cx="116.1" cy="123.6" r="1.35"/>
<circle cx="124.9" cy="146.4" r="1.35"/>
<circle cx="107.8" cy="132.2" r="1.35"/>
<circle cx="150.7" cy="125.8" r="1.35"/>
<circle cx="118.8" cy="136.9" r="1.35"/>
<circle cx="140.9" cy="127.2" r="1.35"/>
<circle cx="151.0" cy="164.7" r="1.35"/>
<circle cx="151.8" cy="68.4" r="1.35"/>
<circle cx="174.3" cy="117.4" r="1.35"/>
<circle cx="104.6" cy="122.5" r="1.35"/>
<circle cx="97.8" cy="141.6" r="1.35"/>
<circle cx="123.4" cy="138.1" r="1.35"/>
<circle cx="116.0" cy="104.6" r="1.35"/>
<circle cx="118.8" cy="67.8" r="1.35"/>
<circle cx="130.5" cy="127.7" r="1.35"/>
<circle cx="159.4" cy="153.1" r="1.35"/>
<circle cx="141.6" cy="134.8" r="1.35"/>
<circle cx="154.0" cy="152.5" r="1.35"/>
<circle cx="129.4" cy="115.6" r="1.35"/>
<circle cx="157.2" cy="130.3" r="1.35"/>
<circle cx="112.9" cy="139.1" r="1.35"/>
<circle cx="155.3" cy="138.9" r="1.35"/>
<circle cx="153.8" cy="76.1" r="1.35"/>
<circle cx="123.8" cy="134.9" r="1.35"/>
<circle cx="159.7" cy="150.6" r="1.35"/>
<circle cx="70.3" cy="125.6" r="1.35"/>
<circle cx="167.6" cy="124.3" r="1.35"/>
<circle cx="107.8" cy="118.8" r="1.35"/>
<circle cx="142.7" cy="125.5" r="1.35"/>
<circle cx="131.2" cy="123.1" r="1.35"/>
<circle cx="129.4" cy="150.8" r="1.35"/>
<circle cx="72.8" cy="110.0" r="1.35"/>
<circle cx="168.0" cy="138.0" r="1.35"/>
<circle cx="133.0" cy="106.6" r="1.35"/>
<circle cx="149.5" cy="113.5" r="1.35"/>
<circle cx="143.9" cy="158.7" r="1.35"/>
<circle cx="159.7" cy="115.8" r="1.35"/>
<circle cx="175.9" cy="127.3" r="1.35"/>
<circle cx="156.2" cy="160.4" r="1.35"/>
<circle cx="122.9" cy="113.5" r="1.35"/>
<circle cx="162.6" cy="94.9" r="1.35"/>
<circle cx="168.2" cy="121.5" r="1.35"/>
<circle cx="123.3" cy="130.3" r="1.35"/>
<circle cx="125.1" cy="160.3" r="1.35"/>
<circle cx="156.8" cy="113.0" r="1.35"/>
<circle cx="104.6" cy="127.5" r="1.35"/>
<circle cx="150.9" cy="94.4" r="1.35"/>
<circle cx="131.7" cy="147.1" r="1.35"/>
<circle cx="135.2" cy="138.4" r="1.35"/>
<circle cx="115.6" cy="96.3" r="1.35"/>
<circle cx="147.4" cy="116.6" r="1.35"/>
<circle cx="145.3" cy="119.7" r="1.35"/>
<circle cx="157.4" cy="81.0" r="1.35"/>
<circle cx="149.5" cy="90.6" r="1.35"/>
<circle cx="144.5" cy="129.5" r="1.35"/>
<circle cx="122.9" cy="60.6" r="1.35"/>
<circle cx="107.0" cy="138.5" r="1.35"/>
</g>
<g fill="#3a3a3a">
<circle cx="92.2" cy="31.9" r="1.72"/>
<circle cx="88.6" cy="40.8" r="1.72"/>
<circle cx="91.2" cy="42.1" r="1.72"/>
<circle cx="100.7" cy="39.2" r="1.72"/>
<circle cx="100.0" cy="52.0" r="1.72"/>
<circle cx="103.2" cy="53.0" r="1.72"/>
<circle cx="97.3" cy="59.3" r="1.72"/>
<circle cx="90.9" cy="62.9" r="1.72"/>
<circle cx="91.7" cy="69.9" r="1.72"/>
<circle cx="101.6" cy="66.6" r="1.72"/>
<circle cx="100.4" cy="69.5" r="1.72"/>
<circle cx="103.3" cy="69.0" r="1.72"/>
<circle cx="101.6" cy="72.4" r="1.72"/>
<circle cx="80.0" cy="72.2" r="1.72"/>
<circle cx="105.5" cy="75.3" r="1.72"/>
<circle cx="96.3" cy="77.2" r="1.72"/>
<circle cx="101.9" cy="76.8" r="1.72"/>
<circle cx="97.5" cy="82.6" r="1.72"/>
<circle cx="104.5" cy="86.0" r="1.72"/>
<circle cx="93.1" cy="92.8" r="1.72"/>
<circle cx="101.6" cy="90.9" r="1.72"/>
<circle cx="105.1" cy="91.4" r="1.72"/>
<circle cx="89.5" cy="97.6" r="1.72"/>
<circle cx="99.7" cy="98.2" r="1.72"/>
<circle cx="102.6" cy="99.7" r="1.72"/>
<circle cx="92.4" cy="106.4" r="1.72"/>
<circle cx="104.8" cy="105.9" r="1.72"/>
<circle cx="106.2" cy="99.4" r="1.72"/>
<circle cx="171.1" cy="42.1" r="1.72"/>
<circle cx="195.6" cy="37.2" r="1.72"/>
<circle cx="206.5" cy="64.0" r="1.72"/>
<circle cx="177.1" cy="68.2" r="1.72"/>
<circle cx="184.4" cy="68.9" r="1.72"/>
<circle cx="171.3" cy="76.2" r="1.72"/>
<circle cx="181.4" cy="78.5" r="1.72"/>
<circle cx="186.0" cy="82.4" r="1.72"/>
<circle cx="188.1" cy="85.5" r="1.72"/>
<circle cx="171.7" cy="85.4" r="1.72"/>
<circle cx="176.9" cy="88.3" r="1.72"/>
<circle cx="181.7" cy="89.2" r="1.72"/>
<circle cx="173.4" cy="90.9" r="1.72"/>
<circle cx="178.2" cy="91.4" r="1.72"/>
<circle cx="170.4" cy="92.7" r="1.72"/>
<circle cx="175.6" cy="93.1" r="1.72"/>
<circle cx="179.6" cy="93.6" r="1.72"/>
<circle cx="187.0" cy="96.6" r="1.72"/>
<circle cx="175.6" cy="95.3" r="1.72"/>
<circle cx="170.4" cy="97.5" r="1.72"/>
<circle cx="173.4" cy="98.8" r="1.72"/>
<circle cx="179.1" cy="101.0" r="1.72"/>
<circle cx="182.6" cy="102.3" r="1.72"/>
<circle cx="171.2" cy="101.9" r="1.72"/>
<circle cx="174.7" cy="103.2" r="1.72"/>
<circle cx="177.4" cy="104.5" r="1.72"/>
<circle cx="180.4" cy="103.6" r="1.72"/>
<circle cx="170.4" cy="104.5" r="1.72"/>
<circle cx="185.2" cy="106.2" r="1.72"/>
<circle cx="190.5" cy="103.2" r="1.72"/>
<circle cx="191.4" cy="101.9" r="1.72"/>
<circle cx="194.9" cy="98.8" r="1.72"/>
<circle cx="195.7" cy="96.6" r="1.72"/>
<circle cx="182.6" cy="91.4" r="1.72"/>
<circle cx="177.8" cy="94.0" r="1.72"/>
<circle cx="171.7" cy="94.4" r="1.72"/>
<circle cx="169.5" cy="100.6" r="1.72"/>
<circle cx="178.2" cy="97.5" r="1.72"/>
<circle cx="175.6" cy="101.0" r="1.72"/>
<circle cx="178.2" cy="102.3" r="1.72"/>
<circle cx="200.0" cy="90.8" r="1.72"/>
<circle cx="195.1" cy="99.7" r="1.72"/>
<circle cx="186.0" cy="106.5" r="1.72"/>
<circle cx="173.0" cy="106.0" r="1.72"/>
<circle cx="176.0" cy="106.5" r="1.72"/>
</g>
<g fill="#36a3e0">
<circle cx="95.8" cy="89.3" r="1.95"/>
<circle cx="90.3" cy="101.9" r="1.95"/>
<circle cx="103.6" cy="102.6" r="1.95"/>
<circle cx="195.7" cy="92.2" r="1.95"/>
</g>
<g fill="url(#lg)" stroke="#707070" stroke-width="0.45">
<circle cx="401.3" cy="115.5" r="1.35"/>
<circle cx="390.2" cy="70.6" r="1.35"/>
<circle cx="361.8" cy="108.1" r="1.35"/>
<circle cx="408.5" cy="121.1" r="1.35"/>
<circle cx="362.8" cy="119.5" r="1.35"/>
<circle cx="344.9" cy="143.7" r="1.35"/>
<circle cx="344.4" cy="117.3" r="1.35"/>
<circle cx="350.2" cy="122.8" r="1.35"/>
<circle cx="399.6" cy="122.7" r="1.35"/>
<circle cx="337.0" cy="109.6" r="1.35"/>
<circle cx="350.3" cy="148.6" r="1.35"/>
<circle cx="357.3" cy="125.7" r="1.35"/>
<circle cx="357.9" cy="151.3" r="1.35"/>
<circle cx="350.5" cy="127.0" r="1.35"/>
<circle cx="370.0" cy="142.2" r="1.35"/>
<circle cx="394.2" cy="161.3" r="1.35"/>
<circle cx="344.9" cy="141.4" r="1.35"/>
<circle cx="372.5" cy="103.4" r="1.35"/>
<circle cx="359.1" cy="100.7" r="1.35"/>
<circle cx="350.9" cy="141.9" r="1.35"/>
<circle cx="367.1" cy="98.3" r="1.35"/>
<circle cx="393.7" cy="150.0" r="1.35"/>
<circle cx="368.8" cy="88.5" r="1.35"/>
<circle cx="376.9" cy="141.3" r="1.35"/>
<circle cx="387.3" cy="118.7" r="1.35"/>
<circle cx="339.6" cy="110.3" r="1.35"/>
<circle cx="358.1" cy="143.9" r="1.35"/>
<circle cx="389.8" cy="95.7" r="1.35"/>
<circle cx="370.0" cy="122.3" r="1.35"/>
<circle cx="356.2" cy="103.3" r="1.35"/>
<circle cx="356.5" cy="124.0" r="1.35"/>
<circle cx="343.1" cy="111.3" r="1.35"/>
<circle cx="416.8" cy="120.7" r="1.35"/>
<circle cx="385.4" cy="87.2" r="1.35"/>
<circle cx="372.8" cy="138.4" r="1.35"/>
<circle cx="338.3" cy="121.7" r="1.35"/>
<circle cx="390.5" cy="110.9" r="1.35"/>
<circle cx="400.5" cy="149.9" r="1.35"/>
<circle cx="386.9" cy="165.6" r="1.35"/>
<circle cx="371.9" cy="145.0" r="1.35"/>
<circle cx="365.9" cy="131.7" r="1.35"/>
<circle cx="404.4" cy="122.8" r="1.35"/>
<circle cx="410.6" cy="99.0" r="1.35"/>
<circle cx="348.8" cy="120.4" r="1.35"/>
<circle cx="344.5" cy="130.0" r="1.35"/>
<circle cx="376.9" cy="155.0" r="1.35"/>
<circle cx="372.4" cy="98.3" r="1.35"/>
<circle cx="391.7" cy="128.4" r="1.35"/>
<circle cx="384.5" cy="64.7" r="1.35"/>
<circle cx="340.3" cy="120.9" r="1.35"/>
<circle cx="369.0" cy="140.0" r="1.35"/>
<circle cx="374.1" cy="166.8" r="1.35"/>
<circle cx="373.8" cy="160.2" r="1.35"/>
<circle cx="335.1" cy="111.2" r="1.35"/>
<circle cx="342.8" cy="143.3" r="1.35"/>
<circle cx="399.4" cy="127.4" r="1.35"/>
<circle cx="361.6" cy="124.8" r="1.35"/>
<circle cx="385.5" cy="153.2" r="1.35"/>
<circle cx="399.9" cy="114.1" r="1.35"/>
<circle cx="360.0" cy="140.8" r="1.35"/>
<circle cx="346.0" cy="109.2" r="1.35"/>
<circle cx="373.0" cy="119.7" r="1.35"/>
<circle cx="402.4" cy="126.5" r="1.35"/>
<circle cx="355.7" cy="138.7" r="1.35"/>
<circle cx="398.6" cy="150.8" r="1.35"/>
<circle cx="404.2" cy="130.0" r="1.35"/>
<circle cx="405.7" cy="91.9" r="1.35"/>
<circle cx="400.4" cy="144.7" r="1.35"/>
<circle cx="390.4" cy="120.3" r="1.35"/>
<circle cx="352.6" cy="149.0" r="1.35"/>
<circle cx="381.3" cy="169.2" r="1.35"/>
<circle cx="421.6" cy="113.7" r="1.35"/>
<circle cx="393.6" cy="159.4" r="1.35"/>
<circle cx="362.4" cy="95.9" r="1.35"/>
<circle cx="361.3" cy="103.0" r="1.35"/>
<circle cx="353.5" cy="119.9" r="1.35"/>
<circle cx="349.5" cy="130.9" r="1.35"/>
<circle cx="410.5" cy="117.4" r="1.35"/>
<circle cx="346.4" cy="139.8" r="1.35"/>
<circle cx="368.9" cy="136.4" r="1.35"/>
<circle cx="344.6" cy="107.4" r="1.35"/>
<circle cx="402.9" cy="135.2" r="1.35"/>
<circle cx="410.8" cy="142.7" r="1.35"/>
<circle cx="368.4" cy="103.9" r="1.35"/>
<circle cx="396.8" cy="118.1" r="1.35"/>
<circle cx="406.1" cy="118.2" r="1.35"/>
<circle cx="364.8" cy="123.2" r="1.35"/>
<circle cx="366.5" cy="161.4" r="1.35"/>
<circle cx="359.4" cy="84.0" r="1.35"/>
<circle cx="398.9" cy="148.6" r="1.35"/>
<circle cx="394.6" cy="134.6" r="1.35"/>
<circle cx="383.0" cy="147.9" r="1.35"/>
<circle cx="351.7" cy="121.6" r="1.35"/>
<circle cx="413.4" cy="104.4" r="1.35"/>
<circle cx="392.4" cy="145.2" r="1.35"/>
<circle cx="386.1" cy="145.6" r="1.35"/>
<circle cx="331.7" cy="117.6" r="1.35"/>
<circle cx="353.9" cy="131.4" r="1.35"/>
<circle cx="395.4" cy="116.4" r="1.35"/>
<circle cx="404.8" cy="132.2" r="1.35"/>
<circle cx="355.2" cy="155.0" r="1.35"/>
<circle cx="414.9" cy="136.2" r="1.35"/>
<circle cx="405.4" cy="103.5" r="1.35"/>
<circle cx="369.6" cy="80.0" r="1.35"/>
<circle cx="405.0" cy="155.6" r="1.35"/>
<circle cx="403.8" cy="117.5" r="1.35"/>
<circle cx="388.9" cy="46.7" r="1.35"/>
<circle cx="396.8" cy="104.1" r="1.35"/>
<circle cx="369.2" cy="151.3" r="1.35"/>
<circle cx="373.5" cy="89.8" r="1.35"/>
<circle cx="355.6" cy="94.5" r="1.35"/>
<circle cx="402.8" cy="128.6" r="1.35"/>
<circle cx="397.0" cy="148.2" r="1.35"/>
<circle cx="363.7" cy="130.2" r="1.35"/>
<circle cx="384.4" cy="132.3" r="1.35"/>
<circle cx="338.9" cy="114.3" r="1.35"/>
<circle cx="375.3" cy="138.3" r="1.35"/>
<circle cx="399.4" cy="73.7" r="1.35"/>
<circle cx="343.8" cy="135.0" r="1.35"/>
<circle cx="396.7" cy="133.7" r="1.35"/>
<circle cx="389.8" cy="117.8" r="1.35"/>
<circle cx="387.9" cy="153.3" r="1.35"/>
<circle cx="374.2" cy="141.0" r="1.35"/>
<circle cx="359.3" cy="122.5" r="1.35"/>
<circle cx="339.6" cy="124.8" r="1.35"/>
<circle cx="405.8" cy="153.1" r="1.35"/>
<circle cx="352.9" cy="155.7" r="1.35"/>
<circle cx="340.9" cy="145.5" r="1.35"/>
<circle cx="422.1" cy="108.2" r="1.35"/>
<circle cx="399.8" cy="158.1" r="1.35"/>
<circle cx="374.9" cy="163.7" r="1.35"/>
<circle cx="371.8" cy="141.3" r="1.35"/>
<circle cx="421.7" cy="127.6" r="1.35"/>
<circle cx="378.3" cy="159.1" r="1.35"/>
<circle cx="408.3" cy="105.2" r="1.35"/>
<circle cx="344.8" cy="146.0" r="1.35"/>
<circle cx="392.2" cy="143.0" r="1.35"/>
<circle cx="362.8" cy="91.3" r="1.35"/>
<circle cx="399.5" cy="116.3" r="1.35"/>
<circle cx="343.8" cy="113.5" r="1.35"/>
<circle cx="349.8" cy="143.5" r="1.35"/>
<circle cx="394.7" cy="124.1" r="1.35"/>
<circle cx="370.1" cy="102.6" r="1.35"/>
<circle cx="361.7" cy="147.0" r="1.35"/>
<circle cx="398.1" cy="102.0" r="1.35"/>
<circle cx="342.6" cy="137.4" r="1.35"/>
<circle cx="349.9" cy="134.5" r="1.35"/>
<circle cx="365.1" cy="134.2" r="1.35"/>
<circle cx="377.1" cy="162.9" r="1.35"/>
<circle cx="382.3" cy="152.9" r="1.35"/>
<circle cx="362.3" cy="83.0" r="1.35"/>
<circle cx="397.7" cy="125.8" r="1.35"/>
<circle cx="367.4" cy="114.5" r="1.35"/>
<circle cx="383.1" cy="143.3" r="1.35"/>
<circle cx="364.8" cy="139.4" r="1.35"/>
<circle cx="429.4" cy="113.5" r="1.35"/>
<circle cx="397.3" cy="131.9" r="1.35"/>
<circle cx="404.1" cy="141.0" r="1.35"/>
<circle cx="370.6" cy="149.4" r="1.35"/>
<circle cx="329.8" cy="120.6" r="1.35"/>
<circle cx="359.3" cy="129.5" r="1.35"/>
<circle cx="383.9" cy="167.6" r="1.35"/>
<circle cx="392.0" cy="158.3" r="1.35"/>
<circle cx="355.3" cy="157.3" r="1.35"/>
<circle cx="366.2" cy="111.5" r="1.35"/>
<circle cx="394.6" cy="88.8" r="1.35"/>
<circle cx="390.7" cy="163.3" r="1.35"/>
<circle cx="399.0" cy="93.8" r="1.35"/>
<circle cx="370.3" cy="98.9" r="1.35"/>
<circle cx="394.3" cy="144.8" r="1.35"/>
<circle cx="386.5" cy="139.8" r="1.35"/>
<circle cx="363.0" cy="157.7" r="1.35"/>
<circle cx="401.7" cy="87.9" r="1.35"/>
<circle cx="352.7" cy="151.7" r="1.35"/>
<circle cx="370.1" cy="155.2" r="1.35"/>
<circle cx="402.3" cy="148.7" r="1.35"/>
<circle cx="352.8" cy="146.5" r="1.35"/>
<circle cx="366.5" cy="82.0" r="1.35"/>
<circle cx="383.0" cy="155.8" r="1.35"/>
<circle cx="398.1" cy="113.0" r="1.35"/>
<circle cx="365.4" cy="113.3" r="1.35"/>
<circle cx="391.0" cy="73.9" r="1.35"/>
<circle cx="361.2" cy="159.6" r="1.35"/>
<circle cx="388.2" cy="141.2" r="1.35"/>
<circle cx="399.8" cy="137.7" r="1.35"/>
<circle cx="383.5" cy="141.4" r="1.35"/>
<circle cx="386.9" cy="113.7" r="1.35"/>
<circle cx="386.3" cy="167.5" r="1.35"/>
<circle cx="374.0" cy="122.3" r="1.35"/>
<circle cx="390.0" cy="136.1" r="1.35"/>
<circle cx="367.7" cy="96.2" r="1.35"/>
<circle cx="384.2" cy="122.4" r="1.35"/>
<circle cx="365.0" cy="158.4" r="1.35"/>
<circle cx="411.0" cy="101.2" r="1.35"/>
<circle cx="367.0" cy="109.3" r="1.35"/>
<circle cx="406.2" cy="124.3" r="1.35"/>
<circle cx="386.9" cy="163.2" r="1.35"/>
<circle cx="393.2" cy="81.7" r="1.35"/>
<circle cx="343.8" cy="124.6" r="1.35"/>
<circle cx="378.5" cy="161.5" r="1.35"/>
<circle cx="368.2" cy="56.5" r="1.35"/>
<circle cx="370.7" cy="138.9" r="1.35"/>
<circle cx="331.3" cy="125.4" r="1.35"/>
<circle cx="389.3" cy="97.6" r="1.35"/>
<circle cx="396.0" cy="142.8" r="1.35"/>
<circle cx="394.7" cy="108.5" r="1.35"/>
<circle cx="339.8" cy="138.8" r="1.35"/>
<circle cx="393.5" cy="117.1" r="1.35"/>
<circle cx="368.6" cy="84.4" r="1.35"/>
<circle cx="370.0" cy="158.6" r="1.35"/>
<circle cx="372.6" cy="165.6" r="1.35"/>
<circle cx="361.2" cy="60.1" r="1.35"/>
<circle cx="360.6" cy="151.1" r="1.35"/>
<circle cx="391.6" cy="160.7" r="1.35"/>
<circle cx="386.4" cy="130.3" r="1.35"/>
<circle cx="366.4" cy="145.7" r="1.35"/>
<circle cx="338.7" cy="132.0" r="1.35"/>
<circle cx="395.0" cy="130.4" r="1.35"/>
<circle cx="364.8" cy="107.3" r="1.35"/>
<circle cx="373.7" cy="147.5" r="1.35"/>
<circle cx="402.4" cy="151.1" r="1.35"/>
<circle cx="353.2" cy="135.6" r="1.35"/>
<circle cx="409.4" cy="123.0" r="1.35"/>
<circle cx="337.5" cy="118.7" r="1.35"/>
<circle cx="350.6" cy="105.5" r="1.35"/>
<circle cx="359.1" cy="149.6" r="1.35"/>
<circle cx="359.6" cy="95.2" r="1.35"/>
<circle cx="407.9" cy="116.8" r="1.35"/>
<circle cx="365.7" cy="116.1" r="1.35"/>
<circle cx="394.9" cy="132.3" r="1.35"/>
<circle cx="365.2" cy="164.2" r="1.35"/>
<circle cx="374.1" cy="143.7" r="1.35"/>
<circle cx="366.6" cy="125.1" r="1.35"/>
<circle cx="368.7" cy="156.5" r="1.35"/>
<circle cx="386.7" cy="126.0" r="1.35"/>
<circle cx="396.5" cy="156.1" r="1.35"/>
<circle cx="401.5" cy="155.3" r="1.35"/>
<circle cx="409.9" cy="138.7" r="1.35"/>
<circle cx="373.4" cy="95.8" r="1.35"/>
<circle cx="412.3" cy="102.7" r="1.35"/>
<circle cx="350.4" cy="108.8" r="1.35"/>
<circle cx="398.6" cy="96.8" r="1.35"/>
<circle cx="384.7" cy="159.3" r="1.35"/>
<circle cx="375.3" cy="151.2" r="1.35"/>
<circle cx="429.9" cy="123.7" r="1.35"/>
<circle cx="341.8" cy="125.5" r="1.35"/>
<circle cx="351.3" cy="111.7" r="1.35"/>
<circle cx="333.2" cy="110.0" r="1.35"/>
<circle cx="341.2" cy="135.9" r="1.35"/>
<circle cx="399.2" cy="73.9" r="1.35"/>
<circle cx="374.5" cy="156.7" r="1.35"/>
<circle cx="405.8" cy="146.5" r="1.35"/>
<circle cx="342.2" cy="130.6" r="1.35"/>
<circle cx="355.0" cy="116.0" r="1.35"/>
<circle cx="383.3" cy="170.3" r="1.35"/>
<circle cx="384.1" cy="138.9" r="1.35"/>
<circle cx="337.3" cy="124.3" r="1.35"/>
<circle cx="402.3" cy="130.8" r="1.35"/>
<circle cx="345.3" cy="119.8" r="1.35"/>
<circle cx="391.1" cy="77.1" r="1.35"/>
<circle cx="367.0" cy="100.9" r="1.35"/>
<circle cx="341.5" cy="109.9" r="1.35"/>
<circle cx="385.6" cy="141.5" r="1.35"/>
<circle cx="384.7" cy="98.9" r="1.35"/>
<circle cx="401.9" cy="113.2" r="1.35"/>
<circle cx="407.7" cy="108.7" r="1.35"/>
<circle cx="355.5" cy="159.5" r="1.35"/>
<circle cx="362.2" cy="139.2" r="1.35"/>
<circle cx="371.4" cy="109.9" r="1.35"/>
<circle cx="395.1" cy="106.6" r="1.35"/>
<circle cx="354.0" cy="111.5" r="1.35"/>
<circle cx="335.1" cy="109.0" r="1.35"/>
<circle cx="402.4" cy="106.8" r="1.35"/>
<circle cx="389.8" cy="130.2" r="1.35"/>
<circle cx="356.6" cy="146.5" r="1.35"/>
<circle cx="353.7" cy="96.8" r="1.35"/>
<circle cx="338.2" cy="127.1" r="1.35"/>
<circle cx="355.3" cy="95.3" r="1.35"/>
<circle cx="373.9" cy="105.5" r="1.35"/>
<circle cx="348.3" cy="136.2" r="1.35"/>
<circle cx="423.5" cy="112.3" r="1.35"/>
<circle cx="403.7" cy="87.7" r="1.35"/>
<circle cx="360.4" cy="143.0" r="1.35"/>
<circle cx="341.3" cy="122.8" r="1.35"/>
<circle cx="378.2" cy="156.9" r="1.35"/>
<circle cx="375.6" cy="148.1" r="1.35"/>
<circle cx="355.8" cy="132.3" r="1.35"/>
<circle cx="351.1" cy="132.2" r="1.35"/>
<circle cx="405.1" cy="126.7" r="1.35"/>
<circle cx="350.7" cy="137.2" r="1.35"/>
<circle cx="417.8" cy="114.5" r="1.35"/>
<circle cx="367.3" cy="159.3" r="1.35"/>
<circle cx="399.6" cy="153.9" r="1.35"/>
<circle cx="386.7" cy="133.3" r="1.35"/>
<circle cx="341.0" cy="112.3" r="1.35"/>
<circle cx="344.9" cy="148.1" r="1.35"/>
<circle cx="390.2" cy="139.6" r="1.35"/>
<circle cx="396.9" cy="129.6" r="1.35"/>
<circle cx="392.1" cy="133.7" r="1.35"/>
<circle cx="371.0" cy="96.4" r="1.35"/>
<circle cx="363.9" cy="125.3" r="1.35"/>
<circle cx="388.5" cy="100.2" r="1.35"/>
<circle cx="400.2" cy="124.6" r="1.35"/>
<circle cx="370.9" cy="163.9" r="1.35"/>
<circle cx="389.2" cy="164.6" r="1.35"/>
<circle cx="345.4" cy="115.7" r="1.35"/>
<circle cx="416.6" cy="122.7" r="1.35"/>
<circle cx="398.0" cy="106.1" r="1.35"/>
<circle cx="400.9" cy="117.7" r="1.35"/>
<circle cx="372.0" cy="126.4" r="1.35"/>
<circle cx="379.0" cy="166.8" r="1.35"/>
<circle cx="395.4" cy="97.0" r="1.35"/>
<circle cx="386.8" cy="101.4" r="1.35"/>
<circle cx="363.8" cy="135.7" r="1.35"/>
<circle cx="365.1" cy="128.7" r="1.35"/>
<circle cx="369.7" cy="131.6" r="1.35"/>
<circle cx="400.6" cy="131.8" r="1.35"/>
<circle cx="361.3" cy="129.7" r="1.35"/>
<circle cx="360.0" cy="131.9" r="1.35"/>
<circle cx="401.8" cy="139.4" r="1.35"/>
<circle cx="414.9" cy="131.5" r="1.35"/>
<circle cx="387.7" cy="115.8" r="1.35"/>
<circle cx="360.5" cy="135.1" r="1.35"/>
<circle cx="373.4" cy="93.1" r="1.35"/>
<circle cx="364.7" cy="160.7" r="1.35"/>
<circle cx="360.8" cy="60.6" r="1.35"/>
<circle cx="406.4" cy="133.9" r="1.35"/>
<circle cx="421.4" cy="136.3" r="1.35"/>
<circle cx="362.3" cy="152.9" r="1.35"/>
<circle cx="317.5" cy="107.6" r="1.35"/>
<circle cx="374.8" cy="124.2" r="1.35"/>
<circle cx="348.4" cy="109.6" r="1.35"/>
<circle cx="392.6" cy="131.5" r="1.35"/>
<circle cx="403.4" cy="115.2" r="1.35"/>
<circle cx="372.3" cy="133.9" r="1.35"/>
<circle cx="412.6" cy="146.4" r="1.35"/>
<circle cx="343.7" cy="109.1" r="1.35"/>
<circle cx="375.0" cy="169.1" r="1.35"/>
<circle cx="407.2" cy="148.3" r="1.35"/>
<circle cx="347.4" cy="115.3" r="1.35"/>
<circle cx="378.3" cy="168.9" r="1.35"/>
<circle cx="354.9" cy="105.1" r="1.35"/>
<circle cx="355.5" cy="134.5" r="1.35"/>
<circle cx="391.3" cy="79.5" r="1.35"/>
<circle cx="395.1" cy="86.7" r="1.35"/>
<circle cx="340.2" cy="127.3" r="1.35"/>
<circle cx="360.5" cy="155.9" r="1.35"/>
<circle cx="355.5" cy="108.2" r="1.35"/>
<circle cx="393.7" cy="156.8" r="1.35"/>
<circle cx="371.6" cy="147.8" r="1.35"/>
<circle cx="430.3" cy="115.9" r="1.35"/>
<circle cx="392.3" cy="126.4" r="1.35"/>
<circle cx="387.6" cy="95.3" r="1.35"/>
<circle cx="338.9" cy="142.6" r="1.35"/>
<circle cx="397.9" cy="138.8" r="1.35"/>
<circle cx="405.5" cy="81.8" r="1.35"/>
<circle cx="393.3" cy="164.4" r="1.35"/>
<circle cx="376.2" cy="133.1" r="1.35"/>
<circle cx="362.9" cy="127.2" r="1.35"/>
<circle cx="352.9" cy="106.1" r="1.35"/>
<circle cx="384.4" cy="114.6" r="1.35"/>
<circle cx="408.4" cy="135.4" r="1.35"/>
<circle cx="357.8" cy="113.3" r="1.35"/>
<circle cx="344.4" cy="133.2" r="1.35"/>
<circle cx="370.7" cy="91.0" r="1.35"/>
<circle cx="364.4" cy="121.3" r="1.35"/>
<circle cx="400.6" cy="141.3" r="1.35"/>
<circle cx="336.6" cy="120.5" r="1.35"/>
<circle cx="387.5" cy="155.6" r="1.35"/>
<circle cx="384.7" cy="149.6" r="1.35"/>
<circle cx="359.6" cy="158.4" r="1.35"/>
<circle cx="386.1" cy="62.4" r="1.35"/>
<circle cx="394.4" cy="137.7" r="1.35"/>
<circle cx="393.2" cy="84.2" r="1.35"/>
<circle cx="409.9" cy="136.7" r="1.35"/>
<circle cx="361.2" cy="121.4" r="1.35"/>
<circle cx="358.0" cy="140.8" r="1.35"/>
<circle cx="400.7" cy="120.8" r="1.35"/>
<circle cx="361.7" cy="112.4" r="1.35"/>
<circle cx="363.4" cy="97.8" r="1.35"/>
<circle cx="378.3" cy="164.4" r="1.35"/>
<circle cx="398.1" cy="121.2" r="1.35"/>
<circle cx="396.9" cy="111.1" r="1.35"/>
<circle cx="392.9" cy="86.7" r="1.35"/>
<circle cx="395.3" cy="158.3" r="1.35"/>
<circle cx="383.5" cy="130.7" r="1.35"/>
<circle cx="348.2" cy="107.3" r="1.35"/>
<circle cx="386.8" cy="93.5" r="1.35"/>
<circle cx="357.3" cy="148.8" r="1.35"/>
<circle cx="404.6" cy="98.5" r="1.35"/>
<circle cx="369.0" cy="165.0" r="1.35"/>
<circle cx="347.0" cy="146.5" r="1.35"/>
<circle cx="399.2" cy="107.8" r="1.35"/>
<circle cx="347.5" cy="125.9" r="1.35"/>
<circle cx="362.4" cy="142.0" r="1.35"/>
<circle cx="358.8" cy="133.9" r="1.35"/>
<circle cx="361.5" cy="76.6" r="1.35"/>
<circle cx="388.7" cy="147.6" r="1.35"/>
<circle cx="364.4" cy="109.5" r="1.35"/>
<circle cx="357.1" cy="97.1" r="1.35"/>
<circle cx="358.2" cy="106.8" r="1.35"/>
<circle cx="365.7" cy="118.1" r="1.35"/>
<circle cx="371.9" cy="105.2" r="1.35"/>
<circle cx="400.1" cy="105.5" r="1.35"/>
<circle cx="383.8" cy="134.7" r="1.35"/>
<circle cx="405.8" cy="144.1" r="1.35"/>
<circle cx="388.9" cy="150.3" r="1.35"/>
<circle cx="392.1" cy="153.3" r="1.35"/>
<circle cx="357.1" cy="153.3" r="1.35"/>
<circle cx="349.0" cy="111.7" r="1.35"/>
<circle cx="401.3" cy="159.9" r="1.35"/>
<circle cx="364.2" cy="150.2" r="1.35"/>
<circle cx="367.7" cy="130.0" r="1.35"/>
<circle cx="368.4" cy="153.9" r="1.35"/>
<circle cx="414.6" cy="119.9" r="1.35"/>
<circle cx="401.4" cy="133.8" r="1.35"/>
<circle cx="377.6" cy="152.3" r="1.35"/>
<circle cx="353.6" cy="140.7" r="1.35"/>
<circle cx="349.6" cy="115.1" r="1.35"/>
<circle cx="406.3" cy="141.4" r="1.35"/>
<circle cx="368.2" cy="90.6" r="1.35"/>
<circle cx="399.2" cy="84.0" r="1.35"/>
<circle cx="355.2" cy="113.2" r="1.35"/>
<circle cx="367.5" cy="123.2" r="1.35"/>
<circle cx="365.2" cy="142.0" r="1.35"/>
<circle cx="363.7" cy="105.4" r="1.35"/>
<circle cx="353.7" cy="133.5" r="1.35"/>
<circle cx="369.4" cy="110.0" r="1.35"/>
<circle cx="402.6" cy="143.7" r="1.35"/>
<circle cx="373.7" cy="110.7" r="1.35"/>
<circle cx="356.1" cy="144.3" r="1.35"/>
<circle cx="384.6" cy="111.6" r="1.35"/>
<circle cx="370.6" cy="66.7" r="1.35"/>
<circle cx="350.4" cy="124.9" r="1.35"/>
<circle cx="364.1" cy="145.8" r="1.35"/>
<circle cx="386.4" cy="151.2" r="1.35"/>
<circle cx="344.9" cy="136.8" r="1.35"/>
<circle cx="376.2" cy="157.8" r="1.35"/>
<circle cx="395.3" cy="91.8" r="1.35"/>
<circle cx="418.4" cy="127.1" r="1.35"/>
<circle cx="393.2" cy="91.1" r="1.35"/>
<circle cx="389.7" cy="115.5" r="1.35"/>
<circle cx="369.6" cy="112.4" r="1.35"/>
<circle cx="365.0" cy="102.7" r="1.35"/>
<circle cx="397.2" cy="98.3" r="1.35"/>
<circle cx="400.2" cy="100.0" r="1.35"/>
<circle cx="384.9" cy="165.8" r="1.35"/>
<circle cx="395.4" cy="121.6" r="1.35"/>
<circle cx="361.0" cy="126.7" r="1.35"/>
<circle cx="355.2" cy="136.4" r="1.35"/>
<circle cx="360.7" cy="119.5" r="1.35"/>
<circle cx="425.6" cy="115.1" r="1.35"/>
<circle cx="400.2" cy="102.7" r="1.35"/>
<circle cx="348.5" cy="154.9" r="1.35"/>
<circle cx="403.3" cy="110.2" r="1.35"/>
<circle cx="355.0" cy="148.9" r="1.35"/>
<circle cx="366.0" cy="136.6" r="1.35"/>
<circle cx="395.5" cy="112.6" r="1.35"/>
<circle cx="384.1" cy="157.4" r="1.35"/>
<circle cx="402.8" cy="93.7" r="1.35"/>
<circle cx="395.3" cy="140.5" r="1.35"/>
<circle cx="357.0" cy="100.4" r="1.35"/>
<circle cx="353.3" cy="142.8" r="1.35"/>
<circle cx="403.7" cy="104.6" r="1.35"/>
<circle cx="369.8" cy="125.8" r="1.35"/>
<circle cx="421.4" cy="125.2" r="1.35"/>
<circle cx="366.3" cy="120.9" r="1.35"/>
<circle cx="360.6" cy="114.4" r="1.35"/>
<circle cx="351.0" cy="145.0" r="1.35"/>
<circle cx="372.2" cy="107.5" r="1.35"/>
<circle cx="402.7" cy="137.3" r="1.35"/>
<circle cx="395.8" cy="150.6" r="1.35"/>
<circle cx="375.8" cy="130.4" r="1.35"/>
<circle cx="384.7" cy="163.7" r="1.35"/>
<circle cx="381.4" cy="163.7" r="1.35"/>
<circle cx="371.5" cy="86.9" r="1.35"/>
<circle cx="367.1" cy="143.1" r="1.35"/>
<circle cx="402.7" cy="96.0" r="1.35"/>
<circle cx="331.2" cy="114.5" r="1.35"/>
<circle cx="404.9" cy="82.7" r="1.35"/>
<circle cx="366.3" cy="91.1" r="1.35"/>
<circle cx="394.0" cy="128.5" r="1.35"/>
<circle cx="401.0" cy="84.4" r="1.35"/>
<circle cx="384.5" cy="120.0" r="1.35"/>
<circle cx="413.8" cy="124.5" r="1.35"/>
<circle cx="399.7" cy="129.4" r="1.35"/>
<circle cx="367.7" cy="117.6" r="1.35"/>
<circle cx="397.1" cy="127.6" r="1.35"/>
<circle cx="368.5" cy="121.1" r="1.35"/>
<circle cx="371.1" cy="118.3" r="1.35"/>
<circle cx="390.0" cy="71.8" r="1.35"/>
<circle cx="364.8" cy="155.3" r="1.35"/>
<circle cx="386.4" cy="109.4" r="1.35"/>
<circle cx="368.1" cy="86.4" r="1.35"/>
<circle cx="372.0" cy="123.4" r="1.35"/>
<circle cx="389.9" cy="142.3" r="1.35"/>
<circle cx="409.4" cy="91.2" r="1.35"/>
<circle cx="349.7" cy="103.1" r="1.35"/>
<circle cx="404.6" cy="138.9" r="1.35"/>
<circle cx="401.1" cy="111.0" r="1.35"/>
<circle cx="383.2" cy="136.7" r="1.35"/>
<circle cx="344.9" cy="126.2" r="1.35"/>
<circle cx="413.4" cy="112.7" r="1.35"/>
<circle cx="350.4" cy="128.9" r="1.35"/>
<circle cx="354.3" cy="83.5" r="1.35"/>
<circle cx="389.0" cy="46.7" r="1.35"/>
<circle cx="402.9" cy="83.6" r="1.35"/>
<circle cx="330.0" cy="112.8" r="1.35"/>
<circle cx="369.4" cy="144.9" r="1.35"/>
<circle cx="396.6" cy="144.9" r="1.35"/>
<circle cx="372.9" cy="157.8" r="1.35"/>
<circle cx="373.3" cy="86.1" r="1.35"/>
<circle cx="401.1" cy="146.5" r="1.35"/>
<circle cx="384.0" cy="146.0" r="1.35"/>
<circle cx="368.4" cy="146.6" r="1.35"/>
<circle cx="390.0" cy="144.7" r="1.35"/>
<circle cx="346.0" cy="135.3" r="1.35"/>
<circle cx="388.1" cy="160.1" r="1.35"/>
<circle cx="404.4" cy="111.8" r="1.35"/>
<circle cx="359.4" cy="97.1" r="1.35"/>
<circle cx="371.9" cy="121.4" r="1.35"/>
<circle cx="392.7" cy="100.9" r="1.35"/>
<circle cx="388.0" cy="131.5" r="1.35"/>
<circle cx="362.4" cy="123.1" r="1.35"/>
<circle cx="352.4" cy="130.0" r="1.35"/>
<circle cx="406.2" cy="130.5" r="1.35"/>
<circle cx="411.5" cy="133.1" r="1.35"/>
<circle cx="408.7" cy="101.1" r="1.35"/>
<circle cx="376.9" cy="167.6" r="1.35"/>
<circle cx="384.9" cy="124.2" r="1.35"/>
<circle cx="405.3" cy="116.2" r="1.35"/>
<circle cx="389.6" cy="124.5" r="1.35"/>
<circle cx="363.6" cy="114.4" r="1.35"/>
<circle cx="402.3" cy="123.2" r="1.35"/>
<circle cx="388.6" cy="103.0" r="1.35"/>
<circle cx="407.8" cy="128.7" r="1.35"/>
<circle cx="389.0" cy="83.5" r="1.35"/>
<circle cx="350.2" cy="117.0" r="1.35"/>
<circle cx="408.8" cy="146.5" r="1.35"/>
<circle cx="371.9" cy="115.1" r="1.35"/>
<circle cx="351.7" cy="113.6" r="1.35"/>
<circle cx="367.8" cy="64.5" r="1.35"/>
<circle cx="372.0" cy="131.6" r="1.35"/>
<circle cx="408.0" cy="118.9" r="1.35"/>
<circle cx="364.9" cy="54.0" r="1.35"/>
<circle cx="422.8" cy="120.2" r="1.35"/>
<circle cx="397.5" cy="116.2" r="1.35"/>
<circle cx="358.9" cy="111.0" r="1.35"/>
<circle cx="387.0" cy="97.5" r="1.35"/>
<circle cx="387.5" cy="111.5" r="1.35"/>
<circle cx="382.4" cy="158.6" r="1.35"/>
<circle cx="375.1" cy="145.6" r="1.35"/>
<circle cx="391.8" cy="116.1" r="1.35"/>
<circle cx="359.0" cy="146.0" r="1.35"/>
<circle cx="389.2" cy="91.7" r="1.35"/>
<circle cx="345.7" cy="123.8" r="1.35"/>
<circle cx="370.1" cy="106.2" r="1.35"/>
<circle cx="360.6" cy="116.6" r="1.35"/>
<circle cx="338.2" cy="116.8" r="1.35"/>
<circle cx="354.5" cy="125.5" r="1.35"/>
<circle cx="341.2" cy="117.0" r="1.35"/>
<circle cx="340.5" cy="107.4" r="1.35"/>
<circle cx="372.7" cy="84.2" r="1.35"/>
<circle cx="365.5" cy="99.3" r="1.35"/>
<circle cx="365.1" cy="81.7" r="1.35"/>
<circle cx="351.2" cy="99.3" r="1.35"/>
<circle cx="343.0" cy="127.4" r="1.35"/>
<circle cx="387.9" cy="107.3" r="1.35"/>
<circle cx="406.1" cy="157.2" r="1.35"/>
<circle cx="384.8" cy="108.3" r="1.35"/>
<circle cx="417.8" cy="146.2" r="1.35"/>
<circle cx="389.8" cy="155.6" r="1.35"/>
<circle cx="348.8" cy="138.5" r="1.35"/>
<circle cx="392.3" cy="138.4" r="1.35"/>
<circle cx="374.2" cy="136.7" r="1.35"/>
<circle cx="393.6" cy="104.7" r="1.35"/>
<circle cx="348.2" cy="122.9" r="1.35"/>
<circle cx="395.0" cy="147.8" r="1.35"/>
<circle cx="387.1" cy="169.4" r="1.35"/>
<circle cx="395.3" cy="126.8" r="1.35"/>
<circle cx="358.6" cy="136.0" r="1.35"/>
<circle cx="348.3" cy="118.5" r="1.35"/>
<circle cx="412.7" cy="141.5" r="1.35"/>
<circle cx="398.6" cy="143.7" r="1.35"/>
<circle cx="360.0" cy="105.0" r="1.35"/>
<circle cx="398.7" cy="104.1" r="1.35"/>
<circle cx="386.5" cy="120.7" r="1.35"/>
<circle cx="390.7" cy="132.2" r="1.35"/>
<circle cx="351.6" cy="115.7" r="1.35"/>
<circle cx="344.2" cy="138.7" r="1.35"/>
<circle cx="359.7" cy="109.0" r="1.35"/>
<circle cx="362.3" cy="110.1" r="1.35"/>
<circle cx="385.9" cy="62.7" r="1.35"/>
<circle cx="429.2" cy="121.7" r="1.35"/>
<circle cx="407.2" cy="102.9" r="1.35"/>
<circle cx="366.1" cy="150.8" r="1.35"/>
<circle cx="397.3" cy="77.8" r="1.35"/>
<circle cx="374.4" cy="132.1" r="1.35"/>
<circle cx="363.4" cy="80.8" r="1.35"/>
<circle cx="372.6" cy="129.0" r="1.35"/>
<circle cx="356.5" cy="128.1" r="1.35"/>
<circle cx="358.8" cy="120.4" r="1.35"/>
<circle cx="353.4" cy="122.9" r="1.35"/>
<circle cx="396.0" cy="82.7" r="1.35"/>
<circle cx="402.1" cy="97.9" r="1.35"/>
<circle cx="417.5" cy="130.8" r="1.35"/>
<circle cx="416.8" cy="128.3" r="1.35"/>
<circle cx="396.6" cy="120.0" r="1.35"/>
<circle cx="386.8" cy="135.4" r="1.35"/>
<circle cx="390.1" cy="126.4" r="1.35"/>
<circle cx="385.3" cy="155.3" r="1.35"/>
<circle cx="338.8" cy="108.2" r="1.35"/>
<circle cx="350.7" cy="118.9" r="1.35"/>
<circle cx="354.7" cy="146.1" r="1.35"/>
<circle cx="357.1" cy="90.5" r="1.35"/>
<circle cx="388.7" cy="134.0" r="1.35"/>
<circle cx="389.7" cy="157.6" r="1.35"/>
<circle cx="411.4" cy="112.6" r="1.35"/>
<circle cx="374.0" cy="108.7" r="1.35"/>
<circle cx="372.4" cy="155.8" r="1.35"/>
<circle cx="363.5" cy="84.7" r="1.35"/>
<circle cx="375.7" cy="135.3" r="1.35"/>
<circle cx="398.8" cy="156.4" r="1.35"/>
<circle cx="383.0" cy="162.7" r="1.35"/>
<circle cx="356.6" cy="119.6" r="1.35"/>
<circle cx="406.2" cy="136.8" r="1.35"/>
<circle cx="393.2" cy="119.4" r="1.35"/>
<circle cx="337.6" cy="137.5" r="1.35"/>
<circle cx="357.6" cy="131.1" r="1.35"/>
<circle cx="399.3" cy="75.4" r="1.35"/>
<circle cx="388.6" cy="128.4" r="1.35"/>
<circle cx="427.6" cy="108.8" r="1.35"/>
<circle cx="348.1" cy="134.0" r="1.35"/>
<circle cx="382.1" cy="166.4" r="1.35"/>
<circle cx="360.4" cy="91.2" r="1.35"/>
<circle cx="391.3" cy="151.4" r="1.35"/>
<circle cx="332.6" cy="119.3" r="1.35"/>
<circle cx="369.5" cy="134.4" r="1.35"/>
<circle cx="387.4" cy="124.0" r="1.35"/>
<circle cx="386.5" cy="158.1" r="1.35"/>
<circle cx="369.2" cy="119.3" r="1.35"/>
<circle cx="370.6" cy="129.5" r="1.35"/>
<circle cx="342.9" cy="115.9" r="1.35"/>
<circle cx="407.1" cy="112.3" r="1.35"/>
<circle cx="400.6" cy="152.0" r="1.35"/>
<circle cx="372.6" cy="168.9" r="1.35"/>
<circle cx="366.6" cy="154.1" r="1.35"/>
<circle cx="376.9" cy="150.2" r="1.35"/>
<circle cx="363.7" cy="100.4" r="1.35"/>
<circle cx="348.1" cy="140.9" r="1.35"/>
<circle cx="405.8" cy="128.5" r="1.35"/>
<circle cx="368.6" cy="56.5" r="1.35"/>
<circle cx="396.5" cy="114.5" r="1.35"/>
<circle cx="398.6" cy="110.0" r="1.35"/>
<circle cx="363.3" cy="148.0" r="1.35"/>
<circle cx="363.6" cy="137.9" r="1.35"/>
<circle cx="397.6" cy="78.0" r="1.35"/>
<circle cx="353.3" cy="87.0" r="1.35"/>
<circle cx="362.3" cy="161.3" r="1.35"/>
<circle cx="362.5" cy="116.0" r="1.35"/>
<circle cx="374.1" cy="117.6" r="1.35"/>
<circle cx="365.3" cy="126.6" r="1.35"/>
<circle cx="421.5" cy="118.6" r="1.35"/>
<circle cx="411.9" cy="124.8" r="1.35"/>
<circle cx="415.0" cy="116.9" r="1.35"/>
<circle cx="391.4" cy="92.1" r="1.35"/>
<circle cx="395.3" cy="154.5" r="1.35"/>
<circle cx="369.0" cy="128.3" r="1.35"/>
<circle cx="393.5" cy="111.1" r="1.35"/>
<circle cx="345.5" cy="111.3" r="1.35"/>
<circle cx="369.7" cy="116.0" r="1.35"/>
<circle cx="366.6" cy="147.8" r="1.35"/>
<circle cx="362.2" cy="88.0" r="1.35"/>
<circle cx="385.2" cy="147.5" r="1.35"/>
<circle cx="422.8" cy="129.9" r="1.35"/>
<circle cx="402.3" cy="119.7" r="1.35"/>
<circle cx="406.2" cy="114.3" r="1.35"/>
<circle cx="389.3" cy="93.9" r="1.35"/>
<circle cx="361.4" cy="97.9" r="1.35"/>
<circle cx="360.7" cy="137.0" r="1.35"/>
<circle cx="352.5" cy="117.9" r="1.35"/>
<circle cx="346.1" cy="121.7" r="1.35"/>
<circle cx="386.8" cy="88.6" r="1.35"/>
<circle cx="428.1" cy="119.0" r="1.35"/>
<circle cx="417.4" cy="142.4" r="1.35"/>
<circle cx="405.3" cy="91.2" r="1.35"/>
<circle cx="356.2" cy="87.7" r="1.35"/>
<circle cx="349.2" cy="100.7" r="1.35"/>
<circle cx="366.8" cy="140.4" r="1.35"/>
<circle cx="390.8" cy="104.7" r="1.35"/>
<circle cx="428.1" cy="111.1" r="1.35"/>
<circle cx="372.2" cy="78.0" r="1.35"/>
<circle cx="404.5" cy="119.3" r="1.35"/>
<circle cx="341.9" cy="119.8" r="1.35"/>
<circle cx="342.4" cy="133.2" r="1.35"/>
<circle cx="360.2" cy="107.1" r="1.35"/>
<circle cx="359.3" cy="124.6" r="1.35"/>
<circle cx="376.8" cy="146.7" r="1.35"/>
<circle cx="355.8" cy="121.6" r="1.35"/>
<circle cx="403.8" cy="145.6" r="1.35"/>
<circle cx="351.6" cy="102.4" r="1.35"/>
<circle cx="389.5" cy="122.2" r="1.35"/>
<circle cx="342.2" cy="140.4" r="1.35"/>
<circle cx="370.8" cy="160.9" r="1.35"/>
<circle cx="385.1" cy="143.8" r="1.35"/>
<circle cx="355.2" cy="153.0" r="1.35"/>
<circle cx="365.5" cy="54.5" r="1.35"/>
<circle cx="363.8" cy="117.9" r="1.35"/>
<circle cx="416.0" cy="147.0" r="1.35"/>
<circle cx="406.5" cy="106.5" r="1.35"/>
<circle cx="346.3" cy="117.4" r="1.35"/>
<circle cx="384.3" cy="128.8" r="1.35"/>
<circle cx="345.5" cy="128.1" r="1.35"/>
<circle cx="378.7" cy="170.9" r="1.35"/>
<circle cx="389.1" cy="161.8" r="1.35"/>
<circle cx="424.7" cy="128.5" r="1.35"/>
<circle cx="372.2" cy="112.9" r="1.35"/>
<circle cx="388.0" cy="138.4" r="1.35"/>
<circle cx="407.0" cy="138.6" r="1.35"/>
<circle cx="340.0" cy="119.0" r="1.35"/>
<circle cx="349.8" cy="92.6" r="1.35"/>
<circle cx="409.2" cy="133.6" r="1.35"/>
<circle cx="407.0" cy="126.3" r="1.35"/>
<circle cx="392.0" cy="112.6" r="1.35"/>
<circle cx="386.2" cy="128.0" r="1.35"/>
<circle cx="383.5" cy="151.2" r="1.35"/>
<circle cx="408.5" cy="131.7" r="1.35"/>
<circle cx="386.0" cy="62.8" r="1.35"/>
<circle cx="385.4" cy="136.9" r="1.35"/>
<circle cx="370.6" cy="93.5" r="1.35"/>
<circle cx="397.1" cy="152.2" r="1.35"/>
<circle cx="375.0" cy="119.9" r="1.35"/>
<circle cx="337.1" cy="112.9" r="1.35"/>
<circle cx="348.2" cy="129.2" r="1.35"/>
<circle cx="352.4" cy="138.4" r="1.35"/>
<circle cx="400.7" cy="92.7" r="1.35"/>
<circle cx="369.9" cy="108.2" r="1.35"/>
<circle cx="391.9" cy="106.5" r="1.35"/>
<circle cx="391.7" cy="121.7" r="1.35"/>
<circle cx="357.8" cy="138.7" r="1.35"/>
<circle cx="385.2" cy="161.9" r="1.35"/>
<circle cx="404.4" cy="149.0" r="1.35"/>
<circle cx="347.3" cy="131.8" r="1.35"/>
<circle cx="376.0" cy="160.9" r="1.35"/>
<circle cx="414.8" cy="127.3" r="1.35"/>
<circle cx="403.9" cy="124.8" r="1.35"/>
<circle cx="376.0" cy="165.8" r="1.35"/>
<circle cx="368.2" cy="149.3" r="1.35"/>
<circle cx="408.9" cy="143.4" r="1.35"/>
<circle cx="409.5" cy="154.4" r="1.35"/>
<circle cx="352.8" cy="100.3" r="1.35"/>
<circle cx="364.7" cy="152.8" r="1.35"/>
<circle cx="415.5" cy="115.0" r="1.35"/>
<circle cx="374.0" cy="115.6" r="1.35"/>
<circle cx="405.7" cy="120.9" r="1.35"/>
<circle cx="413.0" cy="121.1" r="1.35"/>
<circle cx="362.2" cy="131.9" r="1.35"/>
<circle cx="390.3" cy="113.7" r="1.35"/>
<circle cx="360.0" cy="92.4" r="1.35"/>
<circle cx="347.4" cy="113.3" r="1.35"/>
<circle cx="352.5" cy="127.8" r="1.35"/>
<circle cx="331.4" cy="127.5" r="1.35"/>
<circle cx="371.6" cy="84.0" r="1.35"/>
<circle cx="327.7" cy="111.7" r="1.35"/>
<circle cx="360.6" cy="82.2" r="1.35"/>
<circle cx="391.9" cy="124.2" r="1.35"/>
<circle cx="374.4" cy="154.0" r="1.35"/>
<circle cx="353.4" cy="153.7" r="1.35"/>
<circle cx="364.8" cy="93.0" r="1.35"/>
<circle cx="353.4" cy="114.6" r="1.35"/>
<circle cx="354.2" cy="91.5" r="1.35"/>
<circle cx="383.9" cy="126.6" r="1.35"/>
<circle cx="356.8" cy="109.6" r="1.35"/>
<circle cx="361.0" cy="149.2" r="1.35"/>
<circle cx="352.2" cy="24.5" r="1.35"/>
<circle cx="364.5" cy="143.9" r="1.35"/>
<circle cx="374.1" cy="99.5" r="1.35"/>
<circle cx="418.3" cy="123.6" r="1.35"/>
<circle cx="390.6" cy="146.6" r="1.35"/>
<circle cx="364.1" cy="83.9" r="1.35"/>
<circle cx="374.9" cy="126.4" r="1.35"/>
<circle cx="387.0" cy="148.6" r="1.35"/>
<circle cx="393.4" cy="141.1" r="1.35"/>
<circle cx="409.6" cy="103.8" r="1.35"/>
<circle cx="394.8" cy="152.2" r="1.35"/>
<circle cx="359.9" cy="153.9" r="1.35"/>
<circle cx="356.3" cy="142.0" r="1.35"/>
<circle cx="407.6" cy="99.4" r="1.35"/>
<circle cx="399.1" cy="146.2" r="1.35"/>
<circle cx="368.9" cy="100.6" r="1.35"/>
<circle cx="371.8" cy="153.9" r="1.35"/>
<circle cx="358.1" cy="117.6" r="1.35"/>
<circle cx="412.6" cy="148.4" r="1.35"/>
<circle cx="394.3" cy="114.7" r="1.35"/>
<circle cx="392.5" cy="136.3" r="1.35"/>
<circle cx="376.2" cy="143.2" r="1.35"/>
<circle cx="335.6" cy="115.5" r="1.35"/>
<circle cx="423.6" cy="126.5" r="1.35"/>
<circle cx="372.6" cy="81.9" r="1.35"/>
<circle cx="393.0" cy="147.6" r="1.35"/>
<circle cx="384.9" cy="100.9" r="1.35"/>
<circle cx="414.6" cy="122.5" r="1.35"/>
<circle cx="391.7" cy="149.1" r="1.35"/>
<circle cx="355.2" cy="101.2" r="1.35"/>
<circle cx="372.1" cy="136.3" r="1.35"/>
<circle cx="368.2" cy="65.1" r="1.35"/>
<circle cx="398.9" cy="118.5" r="1.35"/>
<circle cx="377.0" cy="139.1" r="1.35"/>
<circle cx="397.1" cy="123.1" r="1.35"/>
<circle cx="358.0" cy="115.5" r="1.35"/>
<circle cx="397.6" cy="140.8" r="1.35"/>
<circle cx="362.8" cy="154.8" r="1.35"/>
<circle cx="374.4" cy="112.6" r="1.35"/>
<circle cx="391.8" cy="155.9" r="1.35"/>
<circle cx="367.6" cy="126.9" r="1.35"/>
<circle cx="352.6" cy="109.4" r="1.35"/>
<circle cx="358.1" cy="156.0" r="1.35"/>
<circle cx="412.4" cy="107.6" r="1.35"/>
<circle cx="405.1" cy="151.1" r="1.35"/>
<circle cx="390.8" cy="100.7" r="1.35"/>
<circle cx="335.9" cy="132.4" r="1.35"/>
<circle cx="397.7" cy="154.4" r="1.35"/>
<circle cx="340.1" cy="129.5" r="1.35"/>
<circle cx="366.3" cy="156.4" r="1.35"/>
<circle cx="354.8" cy="129.7" r="1.35"/>
<circle cx="373.0" cy="150.6" r="1.35"/>
<circle cx="408.5" cy="125.1" r="1.35"/>
<circle cx="372.8" cy="162.1" r="1.35"/>
<circle cx="341.5" cy="114.4" r="1.35"/>
<circle cx="371.1" cy="151.4" r="1.35"/>
<circle cx="365.3" cy="95.9" r="1.35"/>
<circle cx="368.4" cy="161.9" r="1.35"/>
<circle cx="388.5" cy="120.2" r="1.35"/>
<circle cx="350.6" cy="139.4" r="1.35"/>
<circle cx="343.7" cy="121.3" r="1.35"/>
<circle cx="384.9" cy="93.8" r="1.35"/>
<circle cx="401.0" cy="108.5" r="1.35"/>
<circle cx="376.8" cy="170.5" r="1.35"/>
<circle cx="374.6" cy="128.7" r="1.35"/>
<circle cx="358.8" cy="102.8" r="1.35"/>
<circle cx="381.6" cy="160.7" r="1.35"/>
<circle cx="390.0" cy="153.4" r="1.35"/>
<circle cx="398.5" cy="85.0" r="1.35"/>
<circle cx="367.5" cy="138.5" r="1.35"/>
<circle cx="349.1" cy="145.8" r="1.35"/>
<circle cx="357.5" cy="104.8" r="1.35"/>
<circle cx="385.0" cy="116.9" r="1.35"/>
<circle cx="369.3" cy="95.0" r="1.35"/>
<circle cx="406.1" cy="110.2" r="1.35"/>
<circle cx="346.8" cy="142.8" r="1.35"/>
<circle cx="398.3" cy="136.5" r="1.35"/>
<circle cx="349.8" cy="150.7" r="1.35"/>
<circle cx="352.4" cy="125.5" r="1.35"/>
<circle cx="396.3" cy="137.1" r="1.35"/>
<circle cx="353.5" cy="89.3" r="1.35"/>
<circle cx="390.0" cy="106.6" r="1.35"/>
<circle cx="394.3" cy="99.4" r="1.35"/>
<circle cx="387.6" cy="144.1" r="1.35"/>
<circle cx="403.8" cy="91.3" r="1.35"/>
<circle cx="425.4" cy="119.0" r="1.35"/>
<circle cx="415.1" cy="134.0" r="1.35"/>
<circle cx="359.1" cy="127.2" r="1.35"/>
<circle cx="396.7" cy="107.7" r="1.35"/>
<circle cx="417.5" cy="109.3" r="1.35"/>
<circle cx="355.9" cy="151.0" r="1.35"/>
<circle cx="355.4" cy="117.9" r="1.35"/>
<circle cx="347.4" cy="148.4" r="1.35"/>
<circle cx="360.9" cy="145.0" r="1.35"/>
<circle cx="398.4" cy="134.5" r="1.35"/>
<circle cx="367.7" cy="133.0" r="1.35"/>
<circle cx="335.0" cy="113.6" r="1.35"/>
<circle cx="422.9" cy="132.1" r="1.35"/>
<circle cx="353.2" cy="158.0" r="1.35"/>
<circle cx="400.4" cy="135.6" r="1.35"/>
<circle cx="425.5" cy="117.1" r="1.35"/>
<circle cx="358.4" cy="88.3" r="1.35"/>
<circle cx="362.3" cy="134.2" r="1.35"/>
</g>
<g fill="#3a3a3a">
<circle cx="317.8" cy="62.2" r="1.72"/>
<circle cx="338.6" cy="56.5" r="1.72"/>
<circle cx="320.6" cy="73.1" r="1.72"/>
<circle cx="328.6" cy="74.1" r="1.72"/>
<circle cx="333.9" cy="76.0" r="1.72"/>
<circle cx="340.7" cy="77.9" r="1.72"/>
<circle cx="345.5" cy="72.5" r="1.72"/>
<circle cx="321.8" cy="80.5" r="1.72"/>
<circle cx="335.1" cy="90.8" r="1.72"/>
<circle cx="333.5" cy="91.6" r="1.72"/>
<circle cx="328.6" cy="93.7" r="1.72"/>
<circle cx="330.5" cy="94.6" r="1.72"/>
<circle cx="337.7" cy="94.6" r="1.72"/>
<circle cx="340.7" cy="94.0" r="1.72"/>
<circle cx="343.8" cy="93.7" r="1.72"/>
<circle cx="346.1" cy="94.6" r="1.72"/>
<circle cx="333.9" cy="99.9" r="1.72"/>
<circle cx="341.9" cy="101.4" r="1.72"/>
<circle cx="344.5" cy="99.9" r="1.72"/>
<circle cx="346.8" cy="99.9" r="1.72"/>
<circle cx="334.3" cy="103.7" r="1.72"/>
<circle cx="338.5" cy="104.5" r="1.72"/>
<circle cx="334.7" cy="106.4" r="1.72"/>
<circle cx="326.3" cy="104.1" r="1.72"/>
<circle cx="323.7" cy="105.2" r="1.72"/>
<circle cx="329.4" cy="106.4" r="1.72"/>
<circle cx="322.2" cy="106.7" r="1.72"/>
<circle cx="347.6" cy="104.5" r="1.72"/>
<circle cx="340.7" cy="107.5" r="1.72"/>
<circle cx="448.7" cy="33.6" r="1.72"/>
<circle cx="461.9" cy="50.0" r="1.72"/>
<circle cx="428.7" cy="52.0" r="1.72"/>
<circle cx="437.8" cy="52.5" r="1.72"/>
<circle cx="431.4" cy="56.5" r="1.72"/>
<circle cx="421.0" cy="72.2" r="1.72"/>
<circle cx="421.3" cy="75.9" r="1.72"/>
<circle cx="434.6" cy="71.7" r="1.72"/>
<circle cx="446.6" cy="76.2" r="1.72"/>
<circle cx="412.7" cy="82.3" r="1.72"/>
<circle cx="429.0" cy="81.8" r="1.72"/>
<circle cx="429.8" cy="85.8" r="1.72"/>
<circle cx="417.9" cy="86.7" r="1.72"/>
<circle cx="447.4" cy="87.4" r="1.72"/>
<circle cx="412.9" cy="90.8" r="1.72"/>
<circle cx="414.4" cy="92.0" r="1.72"/>
<circle cx="426.6" cy="95.8" r="1.72"/>
<circle cx="428.8" cy="94.2" r="1.72"/>
<circle cx="435.7" cy="92.0" r="1.72"/>
<circle cx="441.0" cy="92.2" r="1.72"/>
<circle cx="450.7" cy="98.6" r="1.72"/>
<circle cx="416.7" cy="99.2" r="1.72"/>
<circle cx="412.9" cy="101.4" r="1.72"/>
<circle cx="417.9" cy="101.8" r="1.72"/>
<circle cx="419.4" cy="103.7" r="1.72"/>
<circle cx="414.4" cy="103.0" r="1.72"/>
<circle cx="425.4" cy="101.8" r="1.72"/>
<circle cx="428.1" cy="101.1" r="1.72"/>
<circle cx="424.3" cy="103.7" r="1.72"/>
<circle cx="423.2" cy="105.6" r="1.72"/>
<circle cx="432.3" cy="101.8" r="1.72"/>
<circle cx="433.0" cy="103.7" r="1.72"/>
<circle cx="436.1" cy="105.6" r="1.72"/>
<circle cx="427.0" cy="103.0" r="1.72"/>
<circle cx="421.5" cy="104.5" r="1.72"/>
<circle cx="429.5" cy="105.5" r="1.72"/>
<circle cx="416.0" cy="106.0" r="1.72"/>
<circle cx="431.0" cy="106.5" r="1.72"/>
<circle cx="419.5" cy="97.5" r="1.72"/>
<circle cx="326.5" cy="101.5" r="1.72"/>
<circle cx="331.0" cy="106.8" r="1.72"/>
<circle cx="337.0" cy="97.5" r="1.72"/>
<circle cx="342.0" cy="97.5" r="1.72"/>
<circle cx="336.5" cy="105.8" r="1.72"/>
</g>
<g fill="#36a3e0">
<circle cx="299.1" cy="90.1" r="1.95"/>
<circle cx="338.5" cy="99.5" r="1.95"/>
<circle cx="344.5" cy="106.5" r="1.95"/>
<circle cx="432.4" cy="94.5" r="1.95"/>
</g>
<line x1="106.20" y1="22.60" x2="106.20" y2="172.00" stroke="#3c3c3c" stroke-width="0.8" stroke-dasharray="1.5 1.6"/>
<line x1="170.20" y1="22.60" x2="170.20" y2="172.00" stroke="#3c3c3c" stroke-width="0.8" stroke-dasharray="1.5 1.6"/>
<line x1="40.80" y1="107.20" x2="235.70" y2="107.20" stroke="#3c3c3c" stroke-width="0.8" stroke-dasharray="1.5 1.55"/>
<line x1="349.40" y1="22.60" x2="349.40" y2="172.00" stroke="#3c3c3c" stroke-width="0.8" stroke-dasharray="1.5 1.6"/>
<line x1="413.40" y1="22.60" x2="413.40" y2="172.00" stroke="#3c3c3c" stroke-width="0.8" stroke-dasharray="1.5 1.6"/>
<line x1="283.60" y1="107.20" x2="478.90" y2="107.20" stroke="#3c3c3c" stroke-width="0.8" stroke-dasharray="1.5 1.55"/>
<text x="65.70" y="34.60" font-size="7.4" text-anchor="start" fill="#2b2b2b" stroke="#2b2b2b" stroke-width="0.06" font-style="italic" textLength="15.2" lengthAdjust="spacingAndGlyphs">CD6</text>
<line x1="81.50" y1="32.00" x2="90.60" y2="32.00" stroke="#222" stroke-width="0.6"/>
<polygon points="90.60,32.00 88.60,32.90 88.60,31.10" fill="#222"/>
<text x="105.80" y="31.80" font-size="7.4" text-anchor="start" fill="#2b2b2b" stroke="#2b2b2b" stroke-width="0.06" font-style="italic" textLength="26.2" lengthAdjust="spacingAndGlyphs">ZNF773</text>
<line x1="117.40" y1="32.60" x2="117.40" y2="37.00" stroke="#222" stroke-width="0.6"/>
<polygon points="117.40,37.00 116.50,35.00 118.30,35.00" fill="#222"/>
<text x="165.50" y="63.10" font-size="7.4" text-anchor="start" fill="#2b2b2b" stroke="#2b2b2b" stroke-width="0.06" font-style="italic" textLength="17.5" lengthAdjust="spacingAndGlyphs">INSR</text>
<line x1="165.00" y1="61.20" x2="156.00" y2="68.00" stroke="#222" stroke-width="0.6"/>
<polygon points="156.00,68.00 157.05,66.08 158.14,67.51" fill="#222"/>
<text x="60.90" y="91.90" font-size="7.4" text-anchor="start" fill="#2b2b2b" stroke="#2b2b2b" stroke-width="0.06" font-style="italic" textLength="22.9" lengthAdjust="spacingAndGlyphs">DPEP1</text>
<line x1="84.50" y1="89.40" x2="93.60" y2="89.40" stroke="#222" stroke-width="0.6"/>
<polygon points="93.60,89.40 91.60,90.30 91.60,88.50" fill="#222"/>
<text x="56.60" y="104.30" font-size="7.4" text-anchor="start" fill="#2b2b2b" stroke="#2b2b2b" stroke-width="0.06" font-style="italic" textLength="21.8" lengthAdjust="spacingAndGlyphs">MREG</text>
<line x1="79.00" y1="101.90" x2="88.20" y2="101.90" stroke="#222" stroke-width="0.6"/>
<polygon points="88.20,101.90 86.20,102.80 86.20,101.00" fill="#222"/>
<text x="56.00" y="118.60" font-size="7.4" text-anchor="start" fill="#2b2b2b" stroke="#2b2b2b" stroke-width="0.06" font-style="italic" textLength="29.5" lengthAdjust="spacingAndGlyphs">SHANK3</text>
<line x1="85.50" y1="114.20" x2="101.50" y2="103.60" stroke="#222" stroke-width="0.6"/>
<text x="204.70" y="98.90" font-size="7.4" text-anchor="start" fill="#2b2b2b" stroke="#2b2b2b" stroke-width="0.06" font-style="italic" textLength="13.4" lengthAdjust="spacingAndGlyphs">CR1</text>
<line x1="203.50" y1="96.60" x2="197.80" y2="93.00" stroke="#222" stroke-width="0.6"/>
<text x="310.50" y="26.60" font-size="7.4" text-anchor="start" fill="#2b2b2b" stroke="#2b2b2b" stroke-width="0.06" font-style="italic" textLength="31.1" lengthAdjust="spacingAndGlyphs">KATNAL2</text>
<line x1="342.50" y1="24.50" x2="350.00" y2="24.50" stroke="#222" stroke-width="0.6"/>
<polygon points="350.00,24.50 348.00,25.40 348.00,23.60" fill="#222"/>
<text x="289.80" y="74.10" font-size="7.4" text-anchor="start" fill="#2b2b2b" stroke="#2b2b2b" stroke-width="0.06" font-style="italic" textLength="26.9" lengthAdjust="spacingAndGlyphs">NFATC4</text>
<line x1="311.40" y1="74.60" x2="319.80" y2="80.40" stroke="#222" stroke-width="0.6"/>
<polygon points="319.80,80.40 317.64,80.00 318.67,78.52" fill="#222"/>
<text x="287.40" y="83.20" font-size="7.4" text-anchor="start" fill="#2b2b2b" stroke="#2b2b2b" stroke-width="0.06" font-style="italic" textLength="22.9" lengthAdjust="spacingAndGlyphs">DPEP1</text>
<line x1="298.80" y1="84.60" x2="298.80" y2="88.20" stroke="#222" stroke-width="0.6"/>
<polygon points="298.80,88.20 297.90,86.20 299.70,86.20" fill="#222"/>
<text x="322.60" y="88.00" font-size="7.4" text-anchor="start" fill="#2b2b2b" stroke="#2b2b2b" stroke-width="0.06" font-style="italic" textLength="28.9" lengthAdjust="spacingAndGlyphs">SHANK3</text>
<text x="298.90" y="122.30" font-size="7.4" text-anchor="start" fill="#2b2b2b" stroke="#2b2b2b" stroke-width="0.06" font-style="italic" textLength="21.8" lengthAdjust="spacingAndGlyphs">MREG</text>
<line x1="321.00" y1="118.20" x2="341.80" y2="107.60" stroke="#222" stroke-width="0.6"/>
<text x="445.80" y="107.40" font-size="7.4" text-anchor="start" fill="#2b2b2b" stroke="#2b2b2b" stroke-width="0.06" font-style="italic" textLength="13.3" lengthAdjust="spacingAndGlyphs">CR1</text>
<line x1="445.00" y1="102.60" x2="435.00" y2="96.20" stroke="#222" stroke-width="0.6"/>
<line x1="34.70" y1="239.30" x2="34.70" y2="325.50" stroke="#333333" stroke-width="1.15"/>
<line x1="34.15" y1="324.90" x2="121.10" y2="324.90" stroke="#333333" stroke-width="1.15"/>
<line x1="31.50" y1="324.56" x2="34.70" y2="324.56" stroke="#333333" stroke-width="0.9"/>
<text x="29.20" y="327.01" font-size="8.1" text-anchor="end" fill="#2b2b2b" stroke="#2b2b2b" stroke-width="0.06">−8</text>
<line x1="32.90" y1="319.29" x2="34.70" y2="319.29" stroke="#333333" stroke-width="0.9"/>
<line x1="31.50" y1="314.02" x2="34.70" y2="314.02" stroke="#333333" stroke-width="0.9"/>
<text x="29.20" y="316.47" font-size="8.1" text-anchor="end" fill="#2b2b2b" stroke="#2b2b2b" stroke-width="0.06">−6</text>
<line x1="32.90" y1="308.75" x2="34.70" y2="308.75" stroke="#333333" stroke-width="0.9"/>
<line x1="31.50" y1="303.48" x2="34.70" y2="303.48" stroke="#333333" stroke-width="0.9"/>
<text x="29.20" y="305.93" font-size="8.1" text-anchor="end" fill="#2b2b2b" stroke="#2b2b2b" stroke-width="0.06">−4</text>
<line x1="32.90" y1="298.21" x2="34.70" y2="298.21" stroke="#333333" stroke-width="0.9"/>
<line x1="31.50" y1="292.94" x2="34.70" y2="292.94" stroke="#333333" stroke-width="0.9"/>
<text x="29.20" y="295.39" font-size="8.1" text-anchor="end" fill="#2b2b2b" stroke="#2b2b2b" stroke-width="0.06">−2</text>
<line x1="32.90" y1="287.67" x2="34.70" y2="287.67" stroke="#333333" stroke-width="0.9"/>
<line x1="31.50" y1="282.40" x2="34.70" y2="282.40" stroke="#333333" stroke-width="0.9"/>
<text x="29.20" y="284.85" font-size="8.1" text-anchor="end" fill="#2b2b2b" stroke="#2b2b2b" stroke-width="0.06">0</text>
<line x1="32.90" y1="277.13" x2="34.70" y2="277.13" stroke="#333333" stroke-width="0.9"/>
<line x1="31.50" y1="271.86" x2="34.70" y2="271.86" stroke="#333333" stroke-width="0.9"/>
<text x="29.20" y="274.31" font-size="8.1" text-anchor="end" fill="#2b2b2b" stroke="#2b2b2b" stroke-width="0.06">2</text>
<line x1="32.90" y1="266.59" x2="34.70" y2="266.59" stroke="#333333" stroke-width="0.9"/>
<line x1="31.50" y1="261.32" x2="34.70" y2="261.32" stroke="#333333" stroke-width="0.9"/>
<text x="29.20" y="263.77" font-size="8.1" text-anchor="end" fill="#2b2b2b" stroke="#2b2b2b" stroke-width="0.06">4</text>
<line x1="32.90" y1="256.05" x2="34.70" y2="256.05" stroke="#333333" stroke-width="0.9"/>
<line x1="31.50" y1="250.78" x2="34.70" y2="250.78" stroke="#333333" stroke-width="0.9"/>
<text x="29.20" y="253.23" font-size="8.1" text-anchor="end" fill="#2b2b2b" stroke="#2b2b2b" stroke-width="0.06">6</text>
<line x1="32.90" y1="245.51" x2="34.70" y2="245.51" stroke="#333333" stroke-width="0.9"/>
<line x1="31.50" y1="240.24" x2="34.70" y2="240.24" stroke="#333333" stroke-width="0.9"/>
<text x="29.20" y="242.69" font-size="8.1" text-anchor="end" fill="#2b2b2b" stroke="#2b2b2b" stroke-width="0.06">8</text>
<line x1="59.20" y1="325.00" x2="59.20" y2="327.40" stroke="#333333" stroke-width="0.9"/>
<line x1="95.80" y1="325.00" x2="95.80" y2="327.40" stroke="#333333" stroke-width="0.9"/>
<text x="59.20" y="333.70" font-size="7.9" text-anchor="middle" fill="#2b2b2b" stroke="#2b2b2b" stroke-width="0.02" textLength="33.0" lengthAdjust="spacingAndGlyphs">Diagnosis</text>
<text x="95.80" y="333.70" font-size="7.9" text-anchor="middle" fill="#2b2b2b" stroke="#2b2b2b" stroke-width="0.02" textLength="26.6" lengthAdjust="spacingAndGlyphs">Relapse</text>
<text x="77.35" y="225.00" font-size="7.8" text-anchor="middle" fill="#2b2b2b" stroke="#2b2b2b" stroke-width="0.06" textLength="37.7" lengthAdjust="spacingAndGlyphs">Adult cohort</text>
<text x="77.05" y="233.80" font-size="7.8" text-anchor="middle" fill="#2b2b2b" stroke="#2b2b2b" stroke-width="0.06" textLength="35.7" lengthAdjust="spacingAndGlyphs">P &lt; 0.0001</text>
<line x1="58.90" y1="237.40" x2="95.70" y2="237.40" stroke="#333333" stroke-width="0.85"/>
<line x1="58.90" y1="236.00" x2="58.90" y2="238.80" stroke="#333333" stroke-width="0.85"/>
<line x1="95.70" y1="236.00" x2="95.70" y2="238.80" stroke="#333333" stroke-width="0.85"/>
<g stroke="#3a3a3a" stroke-width="0.65">
<line x1="59.2" y1="254.0" x2="95.8" y2="276.1"/>
<line x1="59.2" y1="256.0" x2="95.8" y2="256.6"/>
<line x1="59.2" y1="260.3" x2="95.8" y2="264.0"/>
<line x1="59.2" y1="263.3" x2="95.8" y2="271.5"/>
<line x1="59.2" y1="267.1" x2="95.8" y2="297.0"/>
<line x1="59.2" y1="272.0" x2="95.8" y2="278.5"/>
<line x1="59.2" y1="274.0" x2="95.8" y2="286.5"/>
<line x1="59.2" y1="276.1" x2="95.8" y2="299.0"/>
<line x1="59.2" y1="278.0" x2="95.8" y2="280.5"/>
<line x1="59.2" y1="280.0" x2="95.8" y2="303.0"/>
<line x1="59.2" y1="282.0" x2="95.8" y2="282.5"/>
<line x1="59.2" y1="284.0" x2="95.8" y2="301.0"/>
<line x1="59.2" y1="286.0" x2="95.8" y2="305.0"/>
<line x1="59.2" y1="288.0" x2="95.8" y2="284.5"/>
<line x1="59.2" y1="290.0" x2="95.8" y2="288.6"/>
<line x1="59.2" y1="292.0" x2="95.8" y2="307.9"/>
<line x1="59.2" y1="293.8" x2="95.8" y2="298.0"/>
<line x1="59.2" y1="298.6" x2="95.8" y2="305.5"/>
<line x1="59.2" y1="300.9" x2="95.8" y2="307.0"/>
<line x1="59.2" y1="285.0" x2="95.8" y2="276.0"/>
</g><g fill="#d0051e">
<circle cx="59.2" cy="254.0" r="1.4"/>
<circle cx="59.2" cy="256.0" r="1.4"/>
<circle cx="59.2" cy="260.3" r="1.4"/>
<circle cx="59.2" cy="263.3" r="1.4"/>
<circle cx="59.2" cy="267.1" r="1.4"/>
<circle cx="59.2" cy="272.0" r="1.4"/>
<circle cx="59.2" cy="274.0" r="1.4"/>
<circle cx="59.2" cy="276.1" r="1.4"/>
<circle cx="59.2" cy="278.0" r="1.4"/>
<circle cx="59.2" cy="280.0" r="1.4"/>
<circle cx="59.2" cy="282.0" r="1.4"/>
<circle cx="59.2" cy="284.0" r="1.4"/>
<circle cx="59.2" cy="286.0" r="1.4"/>
<circle cx="59.2" cy="288.0" r="1.4"/>
<circle cx="59.2" cy="290.0" r="1.4"/>
<circle cx="59.2" cy="292.0" r="1.4"/>
<circle cx="59.2" cy="293.8" r="1.4"/>
<circle cx="59.2" cy="298.6" r="1.4"/>
<circle cx="59.2" cy="300.9" r="1.4"/>
<circle cx="59.2" cy="285.0" r="1.4"/>
</g><g fill="#0b4f9c">
<circle cx="95.8" cy="276.1" r="1.4"/>
<circle cx="95.8" cy="256.6" r="1.4"/>
<circle cx="95.8" cy="264.0" r="1.4"/>
<circle cx="95.8" cy="271.5" r="1.4"/>
<circle cx="95.8" cy="297.0" r="1.4"/>
<circle cx="95.8" cy="278.5" r="1.4"/>
<circle cx="95.8" cy="286.5" r="1.4"/>
<circle cx="95.8" cy="299.0" r="1.4"/>
<circle cx="95.8" cy="280.5" r="1.4"/>
<circle cx="95.8" cy="303.0" r="1.4"/>
<circle cx="95.8" cy="282.5" r="1.4"/>
<circle cx="95.8" cy="301.0" r="1.4"/>
<circle cx="95.8" cy="305.0" r="1.4"/>
<circle cx="95.8" cy="284.5" r="1.4"/>
<circle cx="95.8" cy="288.6" r="1.4"/>
<circle cx="95.8" cy="307.9" r="1.4"/>
<circle cx="95.8" cy="298.0" r="1.4"/>
<circle cx="95.8" cy="305.5" r="1.4"/>
<circle cx="95.8" cy="307.0" r="1.4"/>
<circle cx="95.8" cy="276.0" r="1.4"/>
</g>
<text transform="translate(13.90 282.00) rotate(-90)" font-size="7.6" text-anchor="middle" fill="#2b2b2b" stroke="#2b2b2b" stroke-width="0.1" textLength="62.5" lengthAdjust="spacingAndGlyphs"><tspan font-style="italic">CR1</tspan> expression (log2)</text>
<line x1="161.30" y1="239.30" x2="161.30" y2="325.50" stroke="#333333" stroke-width="1.15"/>
<line x1="160.75" y1="324.90" x2="247.70" y2="324.90" stroke="#333333" stroke-width="1.15"/>
<line x1="158.10" y1="324.56" x2="161.30" y2="324.56" stroke="#333333" stroke-width="0.9"/>
<text x="155.80" y="327.01" font-size="8.1" text-anchor="end" fill="#2b2b2b" stroke="#2b2b2b" stroke-width="0.06">−8</text>
<line x1="159.50" y1="319.29" x2="161.30" y2="319.29" stroke="#333333" stroke-width="0.9"/>
<line x1="158.10" y1="314.02" x2="161.30" y2="314.02" stroke="#333333" stroke-width="0.9"/>
<text x="155.80" y="316.47" font-size="8.1" text-anchor="end" fill="#2b2b2b" stroke="#2b2b2b" stroke-width="0.06">−6</text>
<line x1="159.50" y1="308.75" x2="161.30" y2="308.75" stroke="#333333" stroke-width="0.9"/>
<line x1="158.10" y1="303.48" x2="161.30" y2="303.48" stroke="#333333" stroke-width="0.9"/>
<text x="155.80" y="305.93" font-size="8.1" text-anchor="end" fill="#2b2b2b" stroke="#2b2b2b" stroke-width="0.06">−4</text>
<line x1="159.50" y1="298.21" x2="161.30" y2="298.21" stroke="#333333" stroke-width="0.9"/>
<line x1="158.10" y1="292.94" x2="161.30" y2="292.94" stroke="#333333" stroke-width="0.9"/>
<text x="155.80" y="295.39" font-size="8.1" text-anchor="end" fill="#2b2b2b" stroke="#2b2b2b" stroke-width="0.06">−2</text>
<line x1="159.50" y1="287.67" x2="161.30" y2="287.67" stroke="#333333" stroke-width="0.9"/>
<line x1="158.10" y1="282.40" x2="161.30" y2="282.40" stroke="#333333" stroke-width="0.9"/>
<text x="155.80" y="284.85" font-size="8.1" text-anchor="end" fill="#2b2b2b" stroke="#2b2b2b" stroke-width="0.06">0</text>
<line x1="159.50" y1="277.13" x2="161.30" y2="277.13" stroke="#333333" stroke-width="0.9"/>
<line x1="158.10" y1="271.86" x2="161.30" y2="271.86" stroke="#333333" stroke-width="0.9"/>
<text x="155.80" y="274.31" font-size="8.1" text-anchor="end" fill="#2b2b2b" stroke="#2b2b2b" stroke-width="0.06">2</text>
<line x1="159.50" y1="266.59" x2="161.30" y2="266.59" stroke="#333333" stroke-width="0.9"/>
<line x1="158.10" y1="261.32" x2="161.30" y2="261.32" stroke="#333333" stroke-width="0.9"/>
<text x="155.80" y="263.77" font-size="8.1" text-anchor="end" fill="#2b2b2b" stroke="#2b2b2b" stroke-width="0.06">4</text>
<line x1="159.50" y1="256.05" x2="161.30" y2="256.05" stroke="#333333" stroke-width="0.9"/>
<line x1="158.10" y1="250.78" x2="161.30" y2="250.78" stroke="#333333" stroke-width="0.9"/>
<text x="155.80" y="253.23" font-size="8.1" text-anchor="end" fill="#2b2b2b" stroke="#2b2b2b" stroke-width="0.06">6</text>
<line x1="159.50" y1="245.51" x2="161.30" y2="245.51" stroke="#333333" stroke-width="0.9"/>
<line x1="158.10" y1="240.24" x2="161.30" y2="240.24" stroke="#333333" stroke-width="0.9"/>
<text x="155.80" y="242.69" font-size="8.1" text-anchor="end" fill="#2b2b2b" stroke="#2b2b2b" stroke-width="0.06">8</text>
<line x1="185.60" y1="325.00" x2="185.60" y2="327.40" stroke="#333333" stroke-width="0.9"/>
<line x1="222.10" y1="325.00" x2="222.10" y2="327.40" stroke="#333333" stroke-width="0.9"/>
<text x="185.60" y="333.70" font-size="7.9" text-anchor="middle" fill="#2b2b2b" stroke="#2b2b2b" stroke-width="0.02" textLength="33.0" lengthAdjust="spacingAndGlyphs">Diagnosis</text>
<text x="222.10" y="333.70" font-size="7.9" text-anchor="middle" fill="#2b2b2b" stroke="#2b2b2b" stroke-width="0.02" textLength="26.6" lengthAdjust="spacingAndGlyphs">Relapse</text>
<text x="202.55" y="225.00" font-size="7.8" text-anchor="middle" fill="#2b2b2b" stroke="#2b2b2b" stroke-width="0.06" textLength="48.7" lengthAdjust="spacingAndGlyphs">Pediatric cohort</text>
<text x="202.45" y="233.80" font-size="7.8" text-anchor="middle" fill="#2b2b2b" stroke="#2b2b2b" stroke-width="0.06" textLength="32.1" lengthAdjust="spacingAndGlyphs">P = 0.023</text>
<line x1="184.00" y1="237.40" x2="220.90" y2="237.40" stroke="#333333" stroke-width="0.85"/>
<line x1="184.00" y1="236.00" x2="184.00" y2="238.80" stroke="#333333" stroke-width="0.85"/>
<line x1="220.90" y1="236.00" x2="220.90" y2="238.80" stroke="#333333" stroke-width="0.85"/>
<g stroke="#3a3a3a" stroke-width="0.65">
<line x1="185.6" y1="255.1" x2="222.1" y2="278.5"/>
<line x1="185.6" y1="263.9" x2="222.1" y2="269.0"/>
<line x1="185.6" y1="265.3" x2="222.1" y2="298.1"/>
<line x1="185.6" y1="267.8" x2="222.1" y2="290.9"/>
<line x1="185.6" y1="273.3" x2="222.1" y2="276.6"/>
<line x1="185.6" y1="275.1" x2="222.1" y2="296.0"/>
<line x1="185.6" y1="277.0" x2="222.1" y2="287.2"/>
<line x1="185.6" y1="284.3" x2="222.1" y2="282.8"/>
<line x1="185.6" y1="286.2" x2="222.1" y2="293.8"/>
<line x1="185.6" y1="288.2" x2="222.1" y2="289.1"/>
<line x1="185.6" y1="292.6" x2="222.1" y2="278.5"/>
<line x1="185.6" y1="297.4" x2="222.1" y2="287.2"/>
<line x1="185.6" y1="299.3" x2="222.1" y2="291.5"/>
<line x1="185.6" y1="280.0" x2="222.1" y2="284.0"/>
</g><g fill="#d0051e">
<circle cx="185.6" cy="255.1" r="1.4"/>
<circle cx="185.6" cy="263.9" r="1.4"/>
<circle cx="185.6" cy="265.3" r="1.4"/>
<circle cx="185.6" cy="267.8" r="1.4"/>
<circle cx="185.6" cy="273.3" r="1.4"/>
<circle cx="185.6" cy="275.1" r="1.4"/>
<circle cx="185.6" cy="277.0" r="1.4"/>
<circle cx="185.6" cy="284.3" r="1.4"/>
<circle cx="185.6" cy="286.2" r="1.4"/>
<circle cx="185.6" cy="288.2" r="1.4"/>
<circle cx="185.6" cy="292.6" r="1.4"/>
<circle cx="185.6" cy="297.4" r="1.4"/>
<circle cx="185.6" cy="299.3" r="1.4"/>
<circle cx="185.6" cy="280.0" r="1.4"/>
</g><g fill="#0b4f9c">
<circle cx="222.1" cy="278.5" r="1.4"/>
<circle cx="222.1" cy="269.0" r="1.4"/>
<circle cx="222.1" cy="298.1" r="1.4"/>
<circle cx="222.1" cy="290.9" r="1.4"/>
<circle cx="222.1" cy="276.6" r="1.4"/>
<circle cx="222.1" cy="296.0" r="1.4"/>
<circle cx="222.1" cy="287.2" r="1.4"/>
<circle cx="222.1" cy="282.8" r="1.4"/>
<circle cx="222.1" cy="293.8" r="1.4"/>
<circle cx="222.1" cy="289.1" r="1.4"/>
<circle cx="222.1" cy="278.5" r="1.4"/>
<circle cx="222.1" cy="287.2" r="1.4"/>
<circle cx="222.1" cy="291.5" r="1.4"/>
<circle cx="222.1" cy="284.0" r="1.4"/>
</g>
<text transform="translate(140.50 282.00) rotate(-90)" font-size="7.6" text-anchor="middle" fill="#2b2b2b" stroke="#2b2b2b" stroke-width="0.1" textLength="63.0" lengthAdjust="spacingAndGlyphs"><tspan font-style="italic">CR1</tspan> expression (log2)</text>
<line x1="301.90" y1="239.30" x2="301.90" y2="325.50" stroke="#333333" stroke-width="1.15"/>
<line x1="301.35" y1="324.90" x2="388.30" y2="324.90" stroke="#333333" stroke-width="1.15"/>
<line x1="298.70" y1="324.56" x2="301.90" y2="324.56" stroke="#333333" stroke-width="0.9"/>
<text x="296.40" y="327.01" font-size="8.1" text-anchor="end" fill="#2b2b2b" stroke="#2b2b2b" stroke-width="0.06">−8</text>
<line x1="300.10" y1="319.29" x2="301.90" y2="319.29" stroke="#333333" stroke-width="0.9"/>
<line x1="298.70" y1="314.02" x2="301.90" y2="314.02" stroke="#333333" stroke-width="0.9"/>
<text x="296.40" y="316.47" font-size="8.1" text-anchor="end" fill="#2b2b2b" stroke="#2b2b2b" stroke-width="0.06">−6</text>
<line x1="300.10" y1="308.75" x2="301.90" y2="308.75" stroke="#333333" stroke-width="0.9"/>
<line x1="298.70" y1="303.48" x2="301.90" y2="303.48" stroke="#333333" stroke-width="0.9"/>
<text x="296.40" y="305.93" font-size="8.1" text-anchor="end" fill="#2b2b2b" stroke="#2b2b2b" stroke-width="0.06">−4</text>
<line x1="300.10" y1="298.21" x2="301.90" y2="298.21" stroke="#333333" stroke-width="0.9"/>
<line x1="298.70" y1="292.94" x2="301.90" y2="292.94" stroke="#333333" stroke-width="0.9"/>
<text x="296.40" y="295.39" font-size="8.1" text-anchor="end" fill="#2b2b2b" stroke="#2b2b2b" stroke-width="0.06">−2</text>
<line x1="300.10" y1="287.67" x2="301.90" y2="287.67" stroke="#333333" stroke-width="0.9"/>
<line x1="298.70" y1="282.40" x2="301.90" y2="282.40" stroke="#333333" stroke-width="0.9"/>
<text x="296.40" y="284.85" font-size="8.1" text-anchor="end" fill="#2b2b2b" stroke="#2b2b2b" stroke-width="0.06">0</text>
<line x1="300.10" y1="277.13" x2="301.90" y2="277.13" stroke="#333333" stroke-width="0.9"/>
<line x1="298.70" y1="271.86" x2="301.90" y2="271.86" stroke="#333333" stroke-width="0.9"/>
<text x="296.40" y="274.31" font-size="8.1" text-anchor="end" fill="#2b2b2b" stroke="#2b2b2b" stroke-width="0.06">2</text>
<line x1="300.10" y1="266.59" x2="301.90" y2="266.59" stroke="#333333" stroke-width="0.9"/>
<line x1="298.70" y1="261.32" x2="301.90" y2="261.32" stroke="#333333" stroke-width="0.9"/>
<text x="296.40" y="263.77" font-size="8.1" text-anchor="end" fill="#2b2b2b" stroke="#2b2b2b" stroke-width="0.06">4</text>
<line x1="300.10" y1="256.05" x2="301.90" y2="256.05" stroke="#333333" stroke-width="0.9"/>
<line x1="298.70" y1="250.78" x2="301.90" y2="250.78" stroke="#333333" stroke-width="0.9"/>
<text x="296.40" y="253.23" font-size="8.1" text-anchor="end" fill="#2b2b2b" stroke="#2b2b2b" stroke-width="0.06">6</text>
<line x1="300.10" y1="245.51" x2="301.90" y2="245.51" stroke="#333333" stroke-width="0.9"/>
<line x1="298.70" y1="240.24" x2="301.90" y2="240.24" stroke="#333333" stroke-width="0.9"/>
<text x="296.40" y="242.69" font-size="8.1" text-anchor="end" fill="#2b2b2b" stroke="#2b2b2b" stroke-width="0.06">8</text>
<line x1="326.50" y1="325.00" x2="326.50" y2="327.40" stroke="#333333" stroke-width="0.9"/>
<line x1="363.20" y1="325.00" x2="363.20" y2="327.40" stroke="#333333" stroke-width="0.9"/>
<text x="326.50" y="333.70" font-size="7.9" text-anchor="middle" fill="#2b2b2b" stroke="#2b2b2b" stroke-width="0.02" textLength="33.0" lengthAdjust="spacingAndGlyphs">Diagnosis</text>
<text x="363.20" y="333.70" font-size="7.9" text-anchor="middle" fill="#2b2b2b" stroke="#2b2b2b" stroke-width="0.02" textLength="26.6" lengthAdjust="spacingAndGlyphs">Relapse</text>
<text x="345.00" y="225.00" font-size="7.8" text-anchor="middle" fill="#2b2b2b" stroke="#2b2b2b" stroke-width="0.06" textLength="37.8" lengthAdjust="spacingAndGlyphs">Adult cohort</text>
<text x="344.85" y="233.80" font-size="7.8" text-anchor="middle" fill="#2b2b2b" stroke="#2b2b2b" stroke-width="0.06" textLength="36.7" lengthAdjust="spacingAndGlyphs">P = 0.0008</text>
<line x1="326.10" y1="237.40" x2="363.00" y2="237.40" stroke="#333333" stroke-width="0.85"/>
<line x1="326.10" y1="236.00" x2="326.10" y2="238.80" stroke="#333333" stroke-width="0.85"/>
<line x1="363.00" y1="236.00" x2="363.00" y2="238.80" stroke="#333333" stroke-width="0.85"/>
<g stroke="#3a3a3a" stroke-width="0.65">
<line x1="326.5" y1="256.6" x2="363.2" y2="267.7"/>
<line x1="326.5" y1="274.1" x2="363.2" y2="274.1"/>
<line x1="326.5" y1="276.0" x2="363.2" y2="263.9"/>
<line x1="326.5" y1="278.0" x2="363.2" y2="280.6"/>
<line x1="326.5" y1="280.0" x2="363.2" y2="277.0"/>
<line x1="326.5" y1="282.0" x2="363.2" y2="269.7"/>
<line x1="326.5" y1="284.0" x2="363.2" y2="282.0"/>
<line x1="326.5" y1="286.0" x2="363.2" y2="283.6"/>
<line x1="326.5" y1="287.9" x2="363.2" y2="265.8"/>
<line x1="326.5" y1="291.4" x2="363.2" y2="289.7"/>
<line x1="326.5" y1="292.8" x2="363.2" y2="280.6"/>
<line x1="326.5" y1="297.2" x2="363.2" y2="298.2"/>
<line x1="326.5" y1="297.2" x2="363.2" y2="276.0"/>
<line x1="326.5" y1="308.9" x2="363.2" y2="294.1"/>
<line x1="326.5" y1="283.0" x2="363.2" y2="283.5"/>
</g><g fill="#d0051e">
<circle cx="326.5" cy="256.6" r="1.4"/>
<circle cx="326.5" cy="274.1" r="1.4"/>
<circle cx="326.5" cy="276.0" r="1.4"/>
<circle cx="326.5" cy="278.0" r="1.4"/>
<circle cx="326.5" cy="280.0" r="1.4"/>
<circle cx="326.5" cy="282.0" r="1.4"/>
<circle cx="326.5" cy="284.0" r="1.4"/>
<circle cx="326.5" cy="286.0" r="1.4"/>
<circle cx="326.5" cy="287.9" r="1.4"/>
<circle cx="326.5" cy="291.4" r="1.4"/>
<circle cx="326.5" cy="292.8" r="1.4"/>
<circle cx="326.5" cy="297.2" r="1.4"/>
<circle cx="326.5" cy="297.2" r="1.4"/>
<circle cx="326.5" cy="308.9" r="1.4"/>
<circle cx="326.5" cy="283.0" r="1.4"/>
</g><g fill="#0b4f9c">
<circle cx="363.2" cy="267.7" r="1.4"/>
<circle cx="363.2" cy="274.1" r="1.4"/>
<circle cx="363.2" cy="263.9" r="1.4"/>
<circle cx="363.2" cy="280.6" r="1.4"/>
<circle cx="363.2" cy="277.0" r="1.4"/>
<circle cx="363.2" cy="269.7" r="1.4"/>
<circle cx="363.2" cy="282.0" r="1.4"/>
<circle cx="363.2" cy="283.6" r="1.4"/>
<circle cx="363.2" cy="265.8" r="1.4"/>
<circle cx="363.2" cy="289.7" r="1.4"/>
<circle cx="363.2" cy="280.6" r="1.4"/>
<circle cx="363.2" cy="298.2" r="1.4"/>
<circle cx="363.2" cy="276.0" r="1.4"/>
<circle cx="363.2" cy="294.1" r="1.4"/>
<circle cx="363.2" cy="283.5" r="1.4"/>
</g>
<text transform="translate(281.10 285.10) rotate(-90)" font-size="7.6" text-anchor="middle" fill="#2b2b2b" stroke="#2b2b2b" stroke-width="0.1" textLength="69.8" lengthAdjust="spacingAndGlyphs"><tspan font-style="italic">DPEP1</tspan> expression (log2)</text>
<line x1="426.90" y1="239.30" x2="426.90" y2="325.50" stroke="#333333" stroke-width="1.15"/>
<line x1="426.35" y1="324.90" x2="513.30" y2="324.90" stroke="#333333" stroke-width="1.15"/>
<line x1="423.70" y1="324.56" x2="426.90" y2="324.56" stroke="#333333" stroke-width="0.9"/>
<text x="421.40" y="327.01" font-size="8.1" text-anchor="end" fill="#2b2b2b" stroke="#2b2b2b" stroke-width="0.06">−8</text>
<line x1="425.10" y1="319.29" x2="426.90" y2="319.29" stroke="#333333" stroke-width="0.9"/>
<line x1="423.70" y1="314.02" x2="426.90" y2="314.02" stroke="#333333" stroke-width="0.9"/>
<text x="421.40" y="316.47" font-size="8.1" text-anchor="end" fill="#2b2b2b" stroke="#2b2b2b" stroke-width="0.06">−6</text>
<line x1="425.10" y1="308.75" x2="426.90" y2="308.75" stroke="#333333" stroke-width="0.9"/>
<line x1="423.70" y1="303.48" x2="426.90" y2="303.48" stroke="#333333" stroke-width="0.9"/>
<text x="421.40" y="305.93" font-size="8.1" text-anchor="end" fill="#2b2b2b" stroke="#2b2b2b" stroke-width="0.06">−4</text>
<line x1="425.10" y1="298.21" x2="426.90" y2="298.21" stroke="#333333" stroke-width="0.9"/>
<line x1="423.70" y1="292.94" x2="426.90" y2="292.94" stroke="#333333" stroke-width="0.9"/>
<text x="421.40" y="295.39" font-size="8.1" text-anchor="end" fill="#2b2b2b" stroke="#2b2b2b" stroke-width="0.06">−2</text>
<line x1="425.10" y1="287.67" x2="426.90" y2="287.67" stroke="#333333" stroke-width="0.9"/>
<line x1="423.70" y1="282.40" x2="426.90" y2="282.40" stroke="#333333" stroke-width="0.9"/>
<text x="421.40" y="284.85" font-size="8.1" text-anchor="end" fill="#2b2b2b" stroke="#2b2b2b" stroke-width="0.06">0</text>
<line x1="425.10" y1="277.13" x2="426.90" y2="277.13" stroke="#333333" stroke-width="0.9"/>
<line x1="423.70" y1="271.86" x2="426.90" y2="271.86" stroke="#333333" stroke-width="0.9"/>
<text x="421.40" y="274.31" font-size="8.1" text-anchor="end" fill="#2b2b2b" stroke="#2b2b2b" stroke-width="0.06">2</text>
<line x1="425.10" y1="266.59" x2="426.90" y2="266.59" stroke="#333333" stroke-width="0.9"/>
<line x1="423.70" y1="261.32" x2="426.90" y2="261.32" stroke="#333333" stroke-width="0.9"/>
<text x="421.40" y="263.77" font-size="8.1" text-anchor="end" fill="#2b2b2b" stroke="#2b2b2b" stroke-width="0.06">4</text>
<line x1="425.10" y1="256.05" x2="426.90" y2="256.05" stroke="#333333" stroke-width="0.9"/>
<line x1="423.70" y1="250.78" x2="426.90" y2="250.78" stroke="#333333" stroke-width="0.9"/>
<text x="421.40" y="253.23" font-size="8.1" text-anchor="end" fill="#2b2b2b" stroke="#2b2b2b" stroke-width="0.06">6</text>
<line x1="425.10" y1="245.51" x2="426.90" y2="245.51" stroke="#333333" stroke-width="0.9"/>
<line x1="423.70" y1="240.24" x2="426.90" y2="240.24" stroke="#333333" stroke-width="0.9"/>
<text x="421.40" y="242.69" font-size="8.1" text-anchor="end" fill="#2b2b2b" stroke="#2b2b2b" stroke-width="0.06">8</text>
<line x1="451.50" y1="325.00" x2="451.50" y2="327.40" stroke="#333333" stroke-width="0.9"/>
<line x1="488.20" y1="325.00" x2="488.20" y2="327.40" stroke="#333333" stroke-width="0.9"/>
<text x="451.50" y="333.70" font-size="7.9" text-anchor="middle" fill="#2b2b2b" stroke="#2b2b2b" stroke-width="0.02" textLength="33.0" lengthAdjust="spacingAndGlyphs">Diagnosis</text>
<text x="488.20" y="333.70" font-size="7.9" text-anchor="middle" fill="#2b2b2b" stroke="#2b2b2b" stroke-width="0.02" textLength="26.6" lengthAdjust="spacingAndGlyphs">Relapse</text>
<text x="470.20" y="225.00" font-size="7.8" text-anchor="middle" fill="#2b2b2b" stroke="#2b2b2b" stroke-width="0.06" textLength="48.8" lengthAdjust="spacingAndGlyphs">Pediatric cohort</text>
<text x="470.25" y="233.80" font-size="7.8" text-anchor="middle" fill="#2b2b2b" stroke="#2b2b2b" stroke-width="0.06" textLength="36.5" lengthAdjust="spacingAndGlyphs">P = 0.0038</text>
<line x1="452.00" y1="237.40" x2="488.90" y2="237.40" stroke="#333333" stroke-width="0.85"/>
<line x1="452.00" y1="236.00" x2="452.00" y2="238.80" stroke="#333333" stroke-width="0.85"/>
<line x1="488.90" y1="236.00" x2="488.90" y2="238.80" stroke="#333333" stroke-width="0.85"/>
<g stroke="#3a3a3a" stroke-width="0.65">
<line x1="451.5" y1="260.2" x2="488.2" y2="254.1"/>
<line x1="451.5" y1="270.7" x2="488.2" y2="276.3"/>
<line x1="451.5" y1="277.7" x2="488.2" y2="252.2"/>
<line x1="451.5" y1="279.2" x2="488.2" y2="263.9"/>
<line x1="451.5" y1="280.9" x2="488.2" y2="271.2"/>
<line x1="451.5" y1="283.3" x2="488.2" y2="282.8"/>
<line x1="451.5" y1="286.5" x2="488.2" y2="261.7"/>
<line x1="451.5" y1="290.5" x2="488.2" y2="291.4"/>
<line x1="451.5" y1="292.4" x2="488.2" y2="272.6"/>
<line x1="451.5" y1="302.6" x2="488.2" y2="256.1"/>
<line x1="451.5" y1="304.5" x2="488.2" y2="304.1"/>
<line x1="451.5" y1="307.0" x2="488.2" y2="280.9"/>
<line x1="451.5" y1="315.0" x2="488.2" y2="295.3"/>
<line x1="451.5" y1="281.0" x2="488.2" y2="284.4"/>
<line x1="451.5" y1="303.0" x2="488.2" y2="293.9"/>
</g><g fill="#d0051e">
<circle cx="451.5" cy="260.2" r="1.4"/>
<circle cx="451.5" cy="270.7" r="1.4"/>
<circle cx="451.5" cy="277.7" r="1.4"/>
<circle cx="451.5" cy="279.2" r="1.4"/>
<circle cx="451.5" cy="280.9" r="1.4"/>
<circle cx="451.5" cy="283.3" r="1.4"/>
<circle cx="451.5" cy="286.5" r="1.4"/>
<circle cx="451.5" cy="290.5" r="1.4"/>
<circle cx="451.5" cy="292.4" r="1.4"/>
<circle cx="451.5" cy="302.6" r="1.4"/>
<circle cx="451.5" cy="304.5" r="1.4"/>
<circle cx="451.5" cy="307.0" r="1.4"/>
<circle cx="451.5" cy="315.0" r="1.4"/>
<circle cx="451.5" cy="281.0" r="1.4"/>
<circle cx="451.5" cy="303.0" r="1.4"/>
</g><g fill="#0b4f9c">
<circle cx="488.2" cy="254.1" r="1.4"/>
<circle cx="488.2" cy="276.3" r="1.4"/>
<circle cx="488.2" cy="252.2" r="1.4"/>
<circle cx="488.2" cy="263.9" r="1.4"/>
<circle cx="488.2" cy="271.2" r="1.4"/>
<circle cx="488.2" cy="282.8" r="1.4"/>
<circle cx="488.2" cy="261.7" r="1.4"/>
<circle cx="488.2" cy="291.4" r="1.4"/>
<circle cx="488.2" cy="272.6" r="1.4"/>
<circle cx="488.2" cy="256.1" r="1.4"/>
<circle cx="488.2" cy="304.1" r="1.4"/>
<circle cx="488.2" cy="280.9" r="1.4"/>
<circle cx="488.2" cy="295.3" r="1.4"/>
<circle cx="488.2" cy="284.4" r="1.4"/>
<circle cx="488.2" cy="293.9" r="1.4"/>
</g>
<text transform="translate(406.10 285.10) rotate(-90)" font-size="7.6" text-anchor="middle" fill="#2b2b2b" stroke="#2b2b2b" stroke-width="0.1" textLength="69.8" lengthAdjust="spacingAndGlyphs"><tspan font-style="italic">DPEP1</tspan> expression (log2)</text>
<text x="6.90" y="17.10" font-size="11.5" text-anchor="start" fill="#111" stroke="#111" stroke-width="0.06" font-weight="bold">A</text>
<text x="7.00" y="228.20" font-size="11.3" text-anchor="start" fill="#111" stroke="#111" stroke-width="0.06" font-weight="bold">B</text>
<text x="270.90" y="228.40" font-size="11.3" text-anchor="start" fill="#111" stroke="#111" stroke-width="0.06" font-weight="bold">C</text>
</svg></body></html>
